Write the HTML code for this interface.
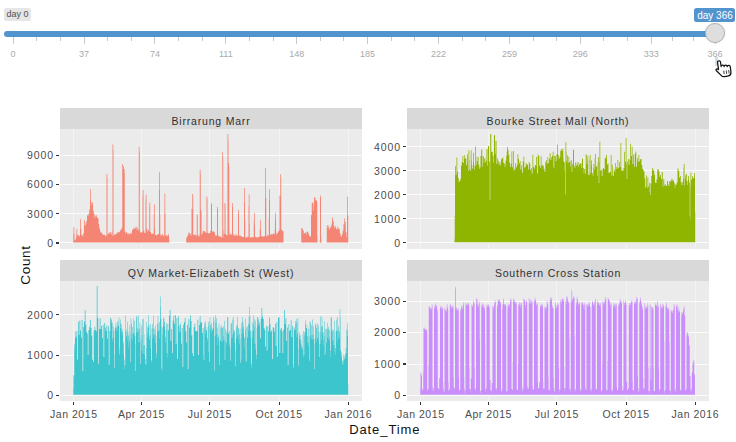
<!DOCTYPE html><html><head><meta charset="utf-8"><style>
html,body{margin:0;padding:0;width:736px;height:442px;overflow:hidden;background:#fff;font-family:"Liberation Sans", sans-serif;}
.t{position:absolute;white-space:nowrap;line-height:1;}
.ax{color:#4D4D4D;font-size:10.5px;}
.st{color:#303030;font-size:10.5px;}
.gt{color:#AAAAAA;font-size:9px;}

</style></head><body>
<svg width="736" height="442" style="position:absolute;left:0;top:0" shape-rendering="crispEdges"><rect x="60" y="107.5" width="302" height="21.0" fill="#D9D9D9"/><rect x="60" y="128.5" width="302" height="120.0" fill="#EBEBEB"/><rect x="60" y="242" width="302" height="1" fill="#FBFBFB"/><rect x="60" y="213" width="302" height="1" fill="#FBFBFB"/><rect x="60" y="184" width="302" height="1" fill="#FBFBFB"/><rect x="60" y="155" width="302" height="1" fill="#FBFBFB"/><rect x="73" y="128.5" width="1" height="120.0" fill="#F3F3F3"/><rect x="141" y="128.5" width="1" height="120.0" fill="#F3F3F3"/><rect x="209" y="128.5" width="1" height="120.0" fill="#F3F3F3"/><rect x="279" y="128.5" width="1" height="120.0" fill="#F3F3F3"/><rect x="348" y="128.5" width="1" height="120.0" fill="#F3F3F3"/><g fill="#F48574" shape-rendering="auto"><path d="M74 227.0h1V233.4h-1ZM75 237.5h1V239.7h-1ZM77 229.0h1V234.6h-1ZM81 228.6h1V234.7h-1ZM83 232.7h1V233.5h-1ZM93 210.2h1V210.6h-1ZM98 217.8h1V219.1h-1ZM99 224.8h1V228.0h-1ZM102 233.0h1V234.0h-1ZM105 235.2h1V235.9h-1ZM107 174.0h1V177.4h-1ZM108 232.6h1V233.5h-1ZM111 232.3h1V233.8h-1ZM113 144.5h1V149.4h-1ZM114 234.0h1V234.7h-1ZM117 232.0h1V232.4h-1ZM120 229.6h1V230.5h-1ZM125 231.3h1V231.9h-1ZM128 233.1h1V233.6h-1ZM129 232.7h1V234.3h-1ZM132 229.3h1V230.1h-1ZM134 227.7h1V228.5h-1ZM135 226.4h1V228.3h-1ZM138 147.0h1V228.7h-1ZM140 231.8h1V232.2h-1ZM141 232.2h1V232.8h-1ZM142 190.0h1V195.3h-1ZM144 230.8h1V233.1h-1ZM145 194.4h1V199.3h-1ZM147 228.5h1V231.1h-1ZM150 202.5h1V232.0h-1ZM151 233.3h1V234.1h-1ZM153 214.1h1V233.8h-1ZM156 234.9h1V235.5h-1ZM157 233.9h1V234.7h-1ZM160 214.6h1V234.2h-1ZM163 235.5h1V235.8h-1ZM165 193.5h1V213.3h-1ZM169 237.8h1V242.4h-1ZM187 234.5h1V236.2h-1ZM189 232.6h1V232.9h-1ZM190 233.4h1V234.4h-1ZM193 196.4h1V234.9h-1ZM195 234.6h1V234.9h-1ZM196 214.0h1V234.3h-1ZM198 235.2h1V235.6h-1ZM199 169.5h1V234.2h-1ZM201 210.0h1V211.7h-1ZM202 230.7h1V233.4h-1ZM205 231.7h1V232.2h-1ZM207 196.5h1V198.8h-1ZM208 232.9h1V233.2h-1ZM214 232.1h1V232.1h-1ZM216 235.4h1V235.6h-1ZM219 235.8h1V236.2h-1ZM223 156.8h1V229.4h-1ZM225 203.0h1V205.0h-1ZM226 234.6h1V235.1h-1ZM228 134.0h1V139.4h-1ZM229 166.8h1V231.0h-1ZM231 233.6h1V234.1h-1ZM233 233.0h1V234.6h-1ZM239 234.8h1V235.4h-1ZM242 236.9h1V237.1h-1ZM245 221.0h1V237.1h-1ZM248 194.4h1V206.6h-1ZM251 237.0h1V237.4h-1ZM253 220.5h1V237.1h-1ZM256 237.0h1V237.2h-1ZM257 236.9h1V237.7h-1ZM259 229.2h1V236.4h-1ZM262 236.1h1V236.6h-1ZM263 236.3h1V236.6h-1ZM266 198.0h1V235.5h-1ZM268 218.8h1V234.7h-1ZM272 233.5h1V234.4h-1ZM274 229.5h1V233.7h-1ZM277 232.7h1V233.2h-1ZM278 231.1h1V231.2h-1ZM281 177.7h1V229.1h-1ZM283 230.7h1V231.4h-1ZM308 232.2h1V233.2h-1ZM310 236.2h1V236.5h-1ZM311 203.0h1V214.9h-1ZM313 202.5h1V204.5h-1ZM317 202.5h1V236.6h-1ZM319 240.6h1V242.4h-1ZM321 235.9h1V242.3h-1ZM326 226.7h1V242.1h-1ZM329 225.6h1V228.9h-1ZM330 227.0h1V227.4h-1ZM338 226.5h1V228.6h-1ZM341 235.6h1V236.3h-1ZM342 230.7h1V233.8h-1ZM348 215.3h1V242.4h-1Z" fill-opacity="0.250"/><path d="M73 227.0h1V233.4h-1ZM74 233.4h1V240.2h-1ZM75 239.7h1V239.8h-1ZM76 229.0h1V234.6h-1ZM77 234.6h1V235.1h-1ZM79 235.4h1V236.3h-1ZM81 234.7h1V235.1h-1ZM82 234.7h1V236.3h-1ZM85 223.3h1V226.0h-1ZM88 213.5h1V215.6h-1ZM91 202.6h1V204.9h-1ZM94 213.9h1V217.2h-1ZM97 217.8h1V218.1h-1ZM98 219.1h1V223.8h-1ZM100 230.8h1V231.4h-1ZM103 234.8h1V234.9h-1ZM105 235.9h1V236.2h-1ZM106 174.0h1V234.7h-1ZM107 177.4h1V235.1h-1ZM109 232.6h1V233.1h-1ZM112 144.5h1V231.2h-1ZM113 149.4h1V235.4h-1ZM115 234.0h1V234.2h-1ZM118 232.0h1V232.3h-1ZM121 228.0h1V229.6h-1ZM124 169.0h1V172.7h-1ZM125 231.9h1V233.6h-1ZM127 233.1h1V234.3h-1ZM128 233.6h1V233.9h-1ZM129 234.3h1V234.5h-1ZM130 232.7h1V233.2h-1ZM133 227.7h1V229.3h-1ZM134 228.5h1V228.6h-1ZM136 226.4h1V227.3h-1ZM138 228.7h1V231.0h-1ZM139 147.0h1V151.8h-1ZM142 195.3h1V232.1h-1ZM143 190.0h1V229.8h-1ZM145 199.3h1V232.7h-1ZM146 194.4h1V228.5h-1ZM147 231.1h1V231.4h-1ZM149 202.5h1V206.6h-1ZM152 233.3h1V234.0h-1ZM155 234.7h1V234.9h-1ZM161 234.6h1V235.9h-1ZM164 193.5h1V213.3h-1ZM165 213.3h1V235.5h-1ZM167 235.3h1V236.2h-1ZM188 232.6h1V234.5h-1ZM191 208.8h1V232.7h-1ZM194 234.6h1V235.1h-1ZM196 234.3h1V235.3h-1ZM197 214.0h1V215.4h-1ZM198 235.6h1V235.8h-1ZM199 234.2h1V236.2h-1ZM200 169.5h1V173.2h-1ZM201 211.7h1V234.4h-1ZM203 230.7h1V231.3h-1ZM206 196.5h1V233.1h-1ZM207 198.8h1V232.4h-1ZM209 232.9h1V233.2h-1ZM212 231.5h1V231.6h-1ZM215 235.0h1V235.4h-1ZM218 235.7h1V235.8h-1ZM219 236.2h1V236.8h-1ZM221 236.8h1V237.1h-1ZM223 229.4h1V233.7h-1ZM224 203.0h1V233.7h-1ZM225 205.0h1V234.1h-1ZM227 134.0h1V235.2h-1ZM228 139.4h1V162.8h-1ZM229 231.0h1V234.6h-1ZM230 233.6h1V235.0h-1ZM231 234.1h1V234.7h-1ZM233 234.6h1V235.3h-1ZM234 234.6h1V235.9h-1ZM237 235.5h1V235.7h-1ZM239 235.4h1V235.9h-1ZM240 235.4h1V236.2h-1ZM243 236.9h1V237.0h-1ZM245 237.1h1V237.4h-1ZM246 237.1h1V237.5h-1ZM248 206.6h1V236.5h-1ZM249 194.4h1V223.6h-1ZM252 237.0h1V237.1h-1ZM253 237.1h1V237.4h-1ZM255 236.6h1V237.0h-1ZM258 236.9h1V237.1h-1ZM261 236.1h1V236.3h-1ZM264 236.1h1V236.3h-1ZM266 235.5h1V236.5h-1ZM267 234.7h1V235.5h-1ZM268 234.7h1V236.0h-1ZM270 234.4h1V234.7h-1ZM273 233.5h1V233.7h-1ZM274 233.7h1V233.9h-1ZM276 232.7h1V234.7h-1ZM279 195.5h1V228.8h-1ZM282 230.7h1V230.9h-1ZM283 231.4h1V242.4h-1ZM303 230.5h1V231.1h-1ZM306 231.8h1V234.6h-1ZM309 235.4h1V235.8h-1ZM310 236.5h1V236.8h-1ZM312 202.5h1V203.0h-1ZM313 204.5h1V210.3h-1ZM315 197.7h1V200.0h-1ZM317 236.6h1V242.4h-1ZM326 242.1h1V242.4h-1ZM328 225.6h1V227.3h-1ZM329 228.9h1V229.7h-1ZM331 223.8h1V225.7h-1ZM334 225.6h1V228.0h-1ZM337 226.5h1V229.3h-1ZM340 233.1h1V235.6h-1ZM341 236.3h1V237.1h-1ZM342 233.8h1V234.1h-1ZM343 224.2h1V228.9h-1ZM346 232.2h1V236.5h-1Z" fill-opacity="0.500"/><path d="M73 233.4h1V242.2h-1ZM76 234.6h1V237.5h-1ZM78 235.0h1V236.3h-1ZM80 219.0h1V228.6h-1ZM83 233.5h1V236.3h-1ZM84 220.0h1V224.6h-1ZM86 221.0h1V223.3h-1ZM87 215.1h1V215.6h-1ZM89 209.4h1V213.5h-1ZM90 189.0h1V199.8h-1ZM92 202.0h1V204.9h-1ZM93 210.6h1V213.9h-1ZM95 215.5h1V217.2h-1ZM96 215.3h1V216.7h-1ZM99 228.0h1V228.8h-1ZM100 231.4h1V233.1h-1ZM101 232.5h1V233.1h-1ZM102 234.0h1V234.5h-1ZM104 234.7h1V234.8h-1ZM106 234.7h1V235.9h-1ZM109 233.1h1V233.6h-1ZM110 231.8h1V233.6h-1ZM111 233.8h1V234.3h-1ZM112 231.2h1V235.4h-1ZM116 233.6h1V234.2h-1ZM119 231.8h1V232.3h-1ZM122 164.0h1V228.0h-1ZM123 166.0h1V169.0h-1ZM124 172.7h1V231.3h-1ZM126 232.0h1V232.6h-1ZM130 233.2h1V233.4h-1ZM131 232.9h1V233.4h-1ZM136 227.3h1V229.6h-1ZM137 227.9h1V229.6h-1ZM139 151.8h1V228.6h-1ZM140 232.2h1V232.3h-1ZM143 229.8h1V230.8h-1ZM148 229.8h1V231.1h-1ZM149 206.6h1V231.1h-1ZM153 233.8h1V234.0h-1ZM154 204.4h1V227.6h-1ZM159 172.0h1V189.8h-1ZM160 234.2h1V235.9h-1ZM162 234.3h1V234.6h-1ZM164 213.3h1V235.5h-1ZM166 235.1h1V236.2h-1ZM168 234.3h1V235.3h-1ZM186 237.7h1V241.4h-1ZM190 234.4h1V234.8h-1ZM191 232.7h1V235.7h-1ZM192 194.0h1V208.8h-1ZM193 234.9h1V235.1h-1ZM196 235.3h1V236.6h-1ZM197 215.4h1V235.2h-1ZM199 236.2h1V236.4h-1ZM200 173.2h1V210.0h-1ZM204 231.1h1V231.3h-1ZM205 232.2h1V232.8h-1ZM210 230.8h1V232.9h-1ZM211 203.0h1V205.0h-1ZM214 232.1h1V232.7h-1ZM215 235.4h1V235.4h-1ZM217 207.0h1V208.8h-1ZM220 236.5h1V236.8h-1ZM221 237.1h1V237.5h-1ZM222 152.3h1V237.5h-1ZM223 233.7h1V236.2h-1ZM226 235.1h1V235.2h-1ZM229 234.6h1V235.0h-1ZM232 203.0h1V207.0h-1ZM235 234.7h1V235.5h-1ZM236 234.5h1V235.5h-1ZM238 210.0h1V213.3h-1ZM241 235.9h1V236.2h-1ZM244 188.0h1V201.8h-1ZM247 236.4h1V237.5h-1ZM249 223.6h1V237.6h-1ZM250 236.9h1V237.6h-1ZM254 213.0h1V225.0h-1ZM259 236.4h1V237.1h-1ZM260 220.0h1V229.2h-1ZM265 168.0h1V198.0h-1ZM269 189.2h1V200.0h-1ZM271 233.8h1V234.7h-1ZM275 213.0h1V219.0h-1ZM279 228.8h1V231.1h-1ZM280 174.2h1V195.5h-1ZM281 229.1h1V229.8h-1ZM301 228.1h1V242.3h-1ZM302 228.6h1V229.3h-1ZM303 231.1h1V233.3h-1ZM304 233.3h1V233.3h-1ZM305 232.6h1V233.1h-1ZM307 231.6h1V231.8h-1ZM308 233.2h1V233.7h-1ZM309 235.8h1V236.2h-1ZM314 196.9h1V197.7h-1ZM315 200.0h1V200.6h-1ZM316 200.3h1V200.6h-1ZM320 195.6h1V198.0h-1ZM321 242.3h1V242.9h-1ZM327 224.9h1V227.5h-1ZM328 227.3h1V227.5h-1ZM331 225.7h1V227.0h-1ZM332 217.5h1V220.0h-1ZM333 221.2h1V225.6h-1ZM335 226.3h1V228.0h-1ZM336 228.6h1V229.3h-1ZM339 229.1h1V233.1h-1ZM343 228.9h1V230.7h-1ZM344 218.6h1V224.2h-1ZM345 222.0h1V232.2h-1ZM346 236.5h1V237.3h-1ZM347 196.8h1V215.3h-1Z" fill-opacity="0.750"/><path d="M73 242.2h1V242.4h-1ZM74 240.2h1V242.4h-1ZM75 239.8h1V242.4h-1ZM76 237.5h1V242.4h-1ZM77 235.1h1V242.4h-1ZM78 236.3h1V242.4h-1ZM79 236.3h1V242.4h-1ZM80 228.6h1V242.4h-1ZM81 235.1h1V242.4h-1ZM82 236.3h1V242.4h-1ZM83 236.3h1V242.4h-1ZM84 224.6h1V242.4h-1ZM85 226.0h1V242.4h-1ZM86 223.3h1V242.4h-1ZM87 215.6h1V242.4h-1ZM88 215.6h1V242.4h-1ZM89 213.5h1V242.4h-1ZM90 199.8h1V242.4h-1ZM91 204.9h1V242.4h-1ZM92 204.9h1V242.4h-1ZM93 213.9h1V242.4h-1ZM94 217.2h1V242.4h-1ZM95 217.2h1V242.4h-1ZM96 216.7h1V242.4h-1ZM97 218.1h1V242.4h-1ZM98 223.8h1V242.4h-1ZM99 228.8h1V242.4h-1ZM100 233.1h1V242.4h-1ZM101 233.1h1V242.4h-1ZM102 234.5h1V242.4h-1ZM103 234.9h1V242.4h-1ZM104 234.8h1V242.4h-1ZM105 236.2h1V242.4h-1ZM106 235.9h1V242.4h-1ZM107 235.1h1V242.4h-1ZM108 233.5h1V242.4h-1ZM109 233.6h1V242.4h-1ZM110 233.6h1V242.4h-1ZM111 234.3h1V242.4h-1ZM112 235.4h1V242.4h-1ZM113 235.4h1V242.4h-1ZM114 234.7h1V242.4h-1ZM115 234.2h1V242.4h-1ZM116 234.2h1V242.4h-1ZM117 232.4h1V242.4h-1ZM118 232.3h1V242.4h-1ZM119 232.3h1V242.4h-1ZM120 230.5h1V242.4h-1ZM121 229.6h1V242.4h-1ZM122 228.0h1V242.4h-1ZM123 169.0h1V242.4h-1ZM124 231.3h1V242.4h-1ZM125 233.6h1V242.4h-1ZM126 232.6h1V242.4h-1ZM127 234.3h1V242.4h-1ZM128 233.9h1V242.4h-1ZM129 234.5h1V242.4h-1ZM130 233.4h1V242.4h-1ZM131 233.4h1V242.4h-1ZM132 230.1h1V242.4h-1ZM133 229.3h1V242.4h-1ZM134 228.6h1V242.4h-1ZM135 228.3h1V242.4h-1ZM136 229.6h1V242.4h-1ZM137 229.6h1V242.4h-1ZM138 231.0h1V242.4h-1ZM139 228.6h1V242.4h-1ZM140 232.3h1V242.4h-1ZM141 232.8h1V242.4h-1ZM142 232.1h1V242.4h-1ZM143 230.8h1V242.4h-1ZM144 233.1h1V242.4h-1ZM145 232.7h1V242.4h-1ZM146 228.5h1V242.4h-1ZM147 231.4h1V242.4h-1ZM148 231.1h1V242.4h-1ZM149 231.1h1V242.4h-1ZM150 232.0h1V242.4h-1ZM151 234.1h1V242.4h-1ZM152 234.0h1V242.4h-1ZM153 234.0h1V242.4h-1ZM154 227.6h1V242.4h-1ZM155 234.9h1V242.4h-1ZM156 235.5h1V242.4h-1ZM157 234.7h1V242.4h-1ZM158 234.0h1V242.4h-1ZM159 189.8h1V242.4h-1ZM160 235.9h1V242.4h-1ZM161 235.9h1V242.4h-1ZM162 234.6h1V242.4h-1ZM163 235.8h1V242.4h-1ZM164 235.5h1V242.4h-1ZM165 235.5h1V242.4h-1ZM166 236.2h1V242.4h-1ZM167 236.2h1V242.4h-1ZM168 235.3h1V242.4h-1ZM186 241.4h1V242.4h-1ZM187 236.2h1V242.4h-1ZM188 234.5h1V242.4h-1ZM189 232.9h1V242.4h-1ZM190 234.8h1V242.4h-1ZM191 235.7h1V242.4h-1ZM192 208.8h1V242.4h-1ZM193 235.1h1V242.4h-1ZM194 235.1h1V242.4h-1ZM195 234.9h1V242.4h-1ZM196 236.6h1V242.4h-1ZM197 235.2h1V242.4h-1ZM198 235.8h1V242.4h-1ZM199 236.4h1V242.4h-1ZM200 210.0h1V242.4h-1ZM201 234.4h1V242.4h-1ZM202 233.4h1V242.4h-1ZM203 231.3h1V242.4h-1ZM204 231.3h1V242.4h-1ZM205 232.8h1V242.4h-1ZM206 233.1h1V242.4h-1ZM207 232.4h1V242.4h-1ZM208 233.2h1V242.4h-1ZM209 233.2h1V242.4h-1ZM210 232.9h1V242.4h-1ZM211 205.0h1V242.4h-1ZM212 231.6h1V242.4h-1ZM213 231.5h1V242.4h-1ZM214 232.7h1V242.4h-1ZM215 235.4h1V242.4h-1ZM216 235.6h1V242.4h-1ZM217 208.8h1V242.4h-1ZM218 235.8h1V242.4h-1ZM219 236.8h1V242.4h-1ZM220 236.8h1V242.4h-1ZM221 237.5h1V242.4h-1ZM222 237.5h1V242.4h-1ZM223 236.2h1V242.4h-1ZM224 233.7h1V242.4h-1ZM225 234.1h1V242.4h-1ZM226 235.2h1V242.4h-1ZM227 235.2h1V242.4h-1ZM228 162.8h1V242.4h-1ZM229 235.0h1V242.4h-1ZM230 235.0h1V242.4h-1ZM231 234.7h1V242.4h-1ZM232 207.0h1V242.4h-1ZM233 235.3h1V242.4h-1ZM234 235.9h1V242.4h-1ZM235 235.5h1V242.4h-1ZM236 235.5h1V242.4h-1ZM237 235.7h1V242.4h-1ZM238 213.3h1V242.4h-1ZM239 235.9h1V242.4h-1ZM240 236.2h1V242.4h-1ZM241 236.2h1V242.4h-1ZM242 237.1h1V242.4h-1ZM243 237.0h1V242.4h-1ZM244 201.8h1V242.4h-1ZM245 237.4h1V242.4h-1ZM246 237.5h1V242.4h-1ZM247 237.5h1V242.4h-1ZM248 236.5h1V242.4h-1ZM249 237.6h1V242.4h-1ZM250 237.6h1V242.4h-1ZM251 237.4h1V242.4h-1ZM252 237.1h1V242.4h-1ZM253 237.4h1V242.4h-1ZM254 225.0h1V242.4h-1ZM255 237.0h1V242.4h-1ZM256 237.2h1V242.4h-1ZM257 237.7h1V242.4h-1ZM258 237.1h1V242.4h-1ZM259 237.1h1V242.4h-1ZM260 229.2h1V242.4h-1ZM261 236.3h1V242.4h-1ZM262 236.6h1V242.4h-1ZM263 236.6h1V242.4h-1ZM264 236.3h1V242.4h-1ZM265 198.0h1V242.4h-1ZM266 236.5h1V242.4h-1ZM267 235.5h1V242.4h-1ZM268 236.0h1V242.4h-1ZM269 200.0h1V242.4h-1ZM270 234.7h1V242.4h-1ZM271 234.7h1V242.4h-1ZM272 234.4h1V242.4h-1ZM273 233.7h1V242.4h-1ZM274 233.9h1V242.4h-1ZM275 219.0h1V242.4h-1ZM276 234.7h1V242.4h-1ZM277 233.2h1V242.4h-1ZM278 231.2h1V242.4h-1ZM279 231.1h1V242.4h-1ZM280 195.5h1V242.4h-1ZM281 229.8h1V242.4h-1ZM282 230.9h1V242.4h-1ZM301 242.3h1V242.4h-1ZM302 229.3h1V242.4h-1ZM303 233.3h1V242.4h-1ZM304 233.3h1V242.4h-1ZM305 233.1h1V242.4h-1ZM306 234.6h1V242.4h-1ZM307 231.8h1V242.4h-1ZM308 233.7h1V242.4h-1ZM309 236.2h1V242.4h-1ZM310 236.8h1V242.4h-1ZM311 214.9h1V242.4h-1ZM312 203.0h1V242.4h-1ZM313 210.3h1V242.4h-1ZM314 197.7h1V242.4h-1ZM315 200.6h1V242.4h-1ZM316 200.6h1V242.4h-1ZM320 198.0h1V242.4h-1ZM327 227.5h1V242.4h-1ZM328 227.5h1V242.4h-1ZM329 229.7h1V242.4h-1ZM330 227.4h1V242.4h-1ZM331 227.0h1V242.4h-1ZM332 220.0h1V242.4h-1ZM333 225.6h1V242.4h-1ZM334 228.0h1V242.4h-1ZM335 228.0h1V242.4h-1ZM336 229.3h1V242.4h-1ZM337 229.3h1V242.4h-1ZM338 228.6h1V242.4h-1ZM339 233.1h1V242.4h-1ZM340 235.6h1V242.4h-1ZM341 237.1h1V242.4h-1ZM342 234.1h1V242.4h-1ZM343 230.7h1V242.4h-1ZM344 224.2h1V242.4h-1ZM345 232.2h1V242.4h-1ZM346 237.3h1V242.4h-1ZM347 215.3h1V242.4h-1Z" fill-opacity="1.000"/></g><rect x="55.8" y="242.45" width="3.3" height="1.1" fill="#333333"/><rect x="55.8" y="213.32" width="3.3" height="1.1" fill="#333333"/><rect x="55.8" y="184.19" width="3.3" height="1.1" fill="#333333"/><rect x="55.8" y="155.06" width="3.3" height="1.1" fill="#333333"/><rect x="407" y="107.5" width="302" height="21.0" fill="#D9D9D9"/><rect x="407" y="128.5" width="302" height="120.0" fill="#EBEBEB"/><rect x="407" y="242" width="302" height="1" fill="#FBFBFB"/><rect x="407" y="218" width="302" height="1" fill="#FBFBFB"/><rect x="407" y="194" width="302" height="1" fill="#FBFBFB"/><rect x="407" y="170" width="302" height="1" fill="#FBFBFB"/><rect x="407" y="146" width="302" height="1" fill="#FBFBFB"/><rect x="420" y="128.5" width="1" height="120.0" fill="#F3F3F3"/><rect x="488" y="128.5" width="1" height="120.0" fill="#F3F3F3"/><rect x="556" y="128.5" width="1" height="120.0" fill="#F3F3F3"/><rect x="626" y="128.5" width="1" height="120.0" fill="#F3F3F3"/><rect x="695" y="128.5" width="1" height="120.0" fill="#F3F3F3"/><g fill="#8FB500" shape-rendering="auto"><path d="M454 215.9h1V239.0h-1ZM457 157.4h1V170.2h-1ZM461 162.1h1V165.4h-1ZM463 156.0h1V163.1h-1ZM466 158.3h1V165.3h-1ZM469 150.5h1V159.8h-1ZM470 150.3h1V170.6h-1ZM472 165.1h1V168.4h-1ZM476 156.2h1V161.0h-1ZM479 164.6h1V167.3h-1ZM482 149.6h1V156.2h-1ZM485 158.2h1V160.5h-1ZM491 134.0h1V151.7h-1ZM500 162.0h1V163.3h-1ZM501 158.4h1V159.2h-1ZM503 157.6h1V162.7h-1ZM506 151.9h1V155.9h-1ZM509 154.7h1V162.5h-1ZM510 163.5h1V166.8h-1ZM512 151.4h1V167.3h-1ZM516 165.1h1V167.2h-1ZM518 154.3h1V159.0h-1ZM519 161.0h1V163.3h-1ZM522 161.4h1V172.8h-1ZM524 156.8h1V167.5h-1ZM525 163.0h1V166.9h-1ZM528 161.9h1V169.3h-1ZM530 163.5h1V169.9h-1ZM533 154.8h1V167.0h-1ZM534 164.9h1V168.6h-1ZM537 154.4h1V173.5h-1ZM539 156.0h1V165.6h-1ZM540 156.2h1V167.7h-1ZM548 156.9h1V162.9h-1ZM549 152.9h1V158.7h-1ZM552 151.8h1V155.7h-1ZM563 148.6h1V158.0h-1ZM566 142.1h1V152.2h-1ZM569 156.7h1V162.0h-1ZM570 160.3h1V162.0h-1ZM576 162.6h1V164.6h-1ZM579 163.4h1V164.8h-1ZM585 154.6h1V168.9h-1ZM588 156.1h1V174.8h-1ZM589 155.0h1V159.4h-1ZM594 158.3h1V164.1h-1ZM597 161.6h1V165.7h-1ZM600 141.8h1V170.5h-1ZM604 158.3h1V169.3h-1ZM607 163.6h1V164.5h-1ZM610 155.0h1V171.4h-1ZM613 169.3h1V175.7h-1ZM618 160.0h1V168.0h-1ZM621 143.0h1V167.9h-1ZM625 137.9h1V161.5h-1ZM631 146.5h1V156.1h-1ZM634 153.5h1V166.4h-1ZM636 151.6h1V166.7h-1ZM639 155.0h1V161.2h-1ZM640 159.1h1V159.2h-1ZM642 164.9h1V168.8h-1ZM645 178.2h1V187.4h-1ZM648 177.2h1V186.4h-1ZM654 170.8h1V175.1h-1ZM655 181.9h1V182.6h-1ZM661 172.0h1V179.0h-1ZM664 179.2h1V184.3h-1ZM670 180.5h1V180.9h-1ZM676 182.2h1V184.5h-1ZM679 171.0h1V177.5h-1ZM682 182.1h1V182.4h-1ZM683 164.0h1V167.9h-1ZM691 172.6h1V180.0h-1ZM695 211.4h1V242.2h-1Z" fill-opacity="0.250"/><path d="M454 239.0h1V242.2h-1ZM456 157.4h1V174.5h-1ZM457 170.2h1V171.9h-1ZM459 180.9h1V181.6h-1ZM462 156.0h1V162.1h-1ZM465 158.3h1V158.5h-1ZM468 150.5h1V170.9h-1ZM469 159.8h1V169.0h-1ZM471 150.3h1V159.5h-1ZM474 165.4h1V169.6h-1ZM476 161.0h1V164.8h-1ZM477 157.1h1V161.0h-1ZM478 157.1h1V164.6h-1ZM479 167.3h1V168.7h-1ZM480 155.9h1V167.3h-1ZM482 156.2h1V166.8h-1ZM485 160.5h1V162.4h-1ZM486 149.0h1V160.5h-1ZM487 149.0h1V165.6h-1ZM491 151.7h1V152.0h-1ZM493 155.6h1V162.8h-1ZM495 140.7h1V153.4h-1ZM496 140.7h1V164.1h-1ZM499 162.0h1V164.6h-1ZM500 163.3h1V165.5h-1ZM502 157.6h1V158.4h-1ZM505 160.6h1V164.7h-1ZM508 150.1h1V154.7h-1ZM511 151.4h1V163.5h-1ZM514 168.7h1V170.2h-1ZM517 154.3h1V165.1h-1ZM520 161.0h1V169.2h-1ZM523 156.8h1V161.4h-1ZM526 163.0h1V164.8h-1ZM529 161.9h1V163.5h-1ZM532 154.8h1V173.2h-1ZM535 164.9h1V165.2h-1ZM538 154.4h1V156.0h-1ZM541 156.2h1V165.6h-1ZM544 169.0h1V171.4h-1ZM547 156.9h1V163.7h-1ZM550 152.9h1V160.0h-1ZM553 151.8h1V165.5h-1ZM556 154.0h1V160.7h-1ZM559 156.7h1V158.9h-1ZM562 148.6h1V150.6h-1ZM563 158.0h1V161.2h-1ZM565 142.1h1V194.3h-1ZM566 152.2h1V161.0h-1ZM568 156.7h1V162.7h-1ZM570 162.0h1V166.6h-1ZM576 164.6h1V166.0h-1ZM577 161.9h1V164.6h-1ZM578 161.9h1V167.1h-1ZM580 163.2h1V163.4h-1ZM581 163.2h1V168.0h-1ZM585 168.9h1V174.1h-1ZM587 156.1h1V160.4h-1ZM589 159.4h1V175.1h-1ZM590 155.0h1V172.9h-1ZM593 164.1h1V168.1h-1ZM594 164.1h1V169.3h-1ZM596 165.7h1V166.9h-1ZM597 165.7h1V175.4h-1ZM599 141.8h1V162.0h-1ZM602 168.9h1V176.0h-1ZM605 157.5h1V158.3h-1ZM608 163.6h1V173.1h-1ZM611 155.0h1V175.3h-1ZM614 169.3h1V171.2h-1ZM617 160.0h1V168.7h-1ZM620 143.0h1V166.8h-1ZM621 167.9h1V170.8h-1ZM623 168.1h1V170.8h-1ZM626 137.9h1V164.1h-1ZM629 159.4h1V164.8h-1ZM632 146.5h1V163.9h-1ZM635 151.6h1V153.5h-1ZM638 155.0h1V162.0h-1ZM641 159.1h1V164.9h-1ZM644 171.5h1V178.2h-1ZM647 177.2h1V188.1h-1ZM650 183.2h1V195.0h-1ZM653 169.4h1V170.8h-1ZM656 179.2h1V182.7h-1ZM659 171.4h1V176.4h-1ZM664 184.3h1V185.4h-1ZM670 180.9h1V181.8h-1ZM671 178.7h1V180.5h-1ZM672 178.7h1V181.1h-1ZM677 168.6h1V182.2h-1ZM678 168.6h1V171.0h-1ZM681 181.8h1V184.9h-1ZM683 167.9h1V178.9h-1ZM684 164.0h1V185.4h-1ZM687 181.1h1V185.0h-1ZM690 172.6h1V186.6h-1ZM693 178.0h1V178.1h-1Z" fill-opacity="0.500"/><path d="M455 165.9h1V174.5h-1ZM458 177.9h1V181.6h-1ZM460 179.2h1V180.9h-1ZM464 155.3h1V158.5h-1ZM467 154.2h1V163.1h-1ZM471 159.5h1V165.1h-1ZM473 152.8h1V161.8h-1ZM475 146.5h1V165.4h-1ZM481 149.6h1V155.9h-1ZM483 156.2h1V162.3h-1ZM484 158.2h1V162.3h-1ZM489 161.5h1V199.5h-1ZM490 134.0h1V199.5h-1ZM492 151.7h1V155.6h-1ZM497 158.3h1V162.5h-1ZM498 160.8h1V164.6h-1ZM504 163.4h1V166.6h-1ZM505 164.7h1V166.6h-1ZM506 155.9h1V160.2h-1ZM507 147.1h1V150.1h-1ZM513 151.0h1V170.2h-1ZM515 163.0h1V168.7h-1ZM521 165.3h1V169.2h-1ZM527 164.5h1V164.8h-1ZM531 167.9h1V173.2h-1ZM536 157.0h1V165.2h-1ZM542 164.8h1V165.6h-1ZM543 165.8h1V169.0h-1ZM545 161.9h1V171.4h-1ZM546 160.1h1V163.7h-1ZM551 157.0h1V160.0h-1ZM553 165.5h1V167.5h-1ZM554 155.8h1V167.5h-1ZM555 156.0h1V160.7h-1ZM557 144.4h1V154.0h-1ZM558 155.1h1V158.9h-1ZM560 150.7h1V156.7h-1ZM561 149.0h1V150.6h-1ZM564 162.2h1V170.2h-1ZM567 155.5h1V162.7h-1ZM571 160.3h1V171.5h-1ZM572 164.1h1V171.5h-1ZM574 166.1h1V167.4h-1ZM575 162.6h1V167.4h-1ZM583 168.1h1V172.4h-1ZM584 168.9h1V172.4h-1ZM586 154.6h1V163.9h-1ZM587 160.4h1V163.9h-1ZM591 160.5h1V164.7h-1ZM592 173.3h1V175.2h-1ZM593 168.1h1V175.2h-1ZM595 153.9h1V166.9h-1ZM598 157.3h1V182.5h-1ZM599 162.0h1V182.5h-1ZM601 170.1h1V176.0h-1ZM603 167.9h1V168.9h-1ZM606 155.1h1V157.5h-1ZM609 172.4h1V173.1h-1ZM612 164.7h1V175.3h-1ZM615 163.1h1V171.2h-1ZM616 167.0h1V168.7h-1ZM619 162.0h1V166.8h-1ZM622 170.2h1V170.8h-1ZM624 151.7h1V168.1h-1ZM626 164.1h1V178.5h-1ZM627 161.8h1V178.5h-1ZM628 159.0h1V164.8h-1ZM630 143.8h1V159.4h-1ZM633 154.7h1V163.9h-1ZM637 158.3h1V162.0h-1ZM643 169.9h1V171.5h-1ZM646 175.5h1V185.6h-1ZM649 182.8h1V191.8h-1ZM651 175.9h1V183.2h-1ZM652 168.0h1V169.4h-1ZM657 169.4h1V179.2h-1ZM658 169.4h1V171.4h-1ZM660 175.0h1V176.4h-1ZM662 172.0h1V186.3h-1ZM663 179.2h1V186.3h-1ZM665 184.3h1V186.0h-1ZM666 185.7h1V186.0h-1ZM668 184.4h1V185.5h-1ZM669 180.9h1V185.5h-1ZM674 183.0h1V187.2h-1ZM675 184.5h1V187.2h-1ZM680 176.1h1V181.8h-1ZM682 182.4h1V184.9h-1ZM685 175.2h1V178.6h-1ZM686 174.0h1V181.1h-1ZM688 176.0h1V179.3h-1ZM689 182.4h1V215.6h-1ZM690 186.6h1V219.0h-1ZM692 176.0h1V178.1h-1ZM694 173.1h1V178.0h-1Z" fill-opacity="0.750"/><path d="M455 174.5h1V242.2h-1ZM456 174.5h1V242.2h-1ZM457 171.9h1V242.2h-1ZM458 181.6h1V242.2h-1ZM459 181.6h1V242.2h-1ZM460 180.9h1V242.2h-1ZM461 165.4h1V242.2h-1ZM462 162.1h1V242.2h-1ZM463 163.1h1V242.2h-1ZM464 158.5h1V242.2h-1ZM465 158.5h1V242.2h-1ZM466 165.3h1V242.2h-1ZM467 163.1h1V242.2h-1ZM468 170.9h1V242.2h-1ZM469 169.0h1V242.2h-1ZM470 170.6h1V242.2h-1ZM471 165.1h1V242.2h-1ZM472 168.4h1V242.2h-1ZM473 161.8h1V242.2h-1ZM474 169.6h1V242.2h-1ZM475 165.4h1V242.2h-1ZM476 164.8h1V242.2h-1ZM477 161.0h1V242.2h-1ZM478 164.6h1V242.2h-1ZM479 168.7h1V242.2h-1ZM480 167.3h1V242.2h-1ZM481 155.9h1V242.2h-1ZM482 166.8h1V242.2h-1ZM483 162.3h1V242.2h-1ZM484 162.3h1V242.2h-1ZM485 162.4h1V242.2h-1ZM486 160.5h1V242.2h-1ZM487 165.6h1V242.2h-1ZM488 146.0h1V242.2h-1ZM489 199.5h1V242.2h-1ZM490 199.5h1V242.2h-1ZM491 152.0h1V242.2h-1ZM492 155.6h1V242.2h-1ZM493 162.8h1V242.2h-1ZM494 135.2h1V242.2h-1ZM495 153.4h1V242.2h-1ZM496 164.1h1V242.2h-1ZM497 162.5h1V242.2h-1ZM498 164.6h1V242.2h-1ZM499 164.6h1V242.2h-1ZM500 165.5h1V242.2h-1ZM501 159.2h1V242.2h-1ZM502 158.4h1V242.2h-1ZM503 162.7h1V242.2h-1ZM504 166.6h1V242.2h-1ZM505 166.6h1V242.2h-1ZM506 160.2h1V242.2h-1ZM507 150.1h1V242.2h-1ZM508 154.7h1V242.2h-1ZM509 162.5h1V242.2h-1ZM510 166.8h1V242.2h-1ZM511 163.5h1V242.2h-1ZM512 167.3h1V242.2h-1ZM513 170.2h1V242.2h-1ZM514 170.2h1V242.2h-1ZM515 168.7h1V242.2h-1ZM516 167.2h1V242.2h-1ZM517 165.1h1V242.2h-1ZM518 159.0h1V242.2h-1ZM519 163.3h1V242.2h-1ZM520 169.2h1V242.2h-1ZM521 169.2h1V242.2h-1ZM522 172.8h1V242.2h-1ZM523 161.4h1V242.2h-1ZM524 167.5h1V242.2h-1ZM525 166.9h1V242.2h-1ZM526 164.8h1V242.2h-1ZM527 164.8h1V242.2h-1ZM528 169.3h1V242.2h-1ZM529 163.5h1V242.2h-1ZM530 169.9h1V242.2h-1ZM531 173.2h1V242.2h-1ZM532 173.2h1V242.2h-1ZM533 167.0h1V242.2h-1ZM534 168.6h1V242.2h-1ZM535 165.2h1V242.2h-1ZM536 165.2h1V242.2h-1ZM537 173.5h1V242.2h-1ZM538 156.0h1V242.2h-1ZM539 165.6h1V242.2h-1ZM540 167.7h1V242.2h-1ZM541 165.6h1V242.2h-1ZM542 165.6h1V242.2h-1ZM543 169.0h1V242.2h-1ZM544 171.4h1V242.2h-1ZM545 171.4h1V242.2h-1ZM546 163.7h1V242.2h-1ZM547 163.7h1V242.2h-1ZM548 162.9h1V242.2h-1ZM549 158.7h1V242.2h-1ZM550 160.0h1V242.2h-1ZM551 160.0h1V242.2h-1ZM552 155.7h1V242.2h-1ZM553 167.5h1V242.2h-1ZM554 167.5h1V242.2h-1ZM555 160.7h1V242.2h-1ZM556 160.7h1V242.2h-1ZM557 154.0h1V242.2h-1ZM558 158.9h1V242.2h-1ZM559 158.9h1V242.2h-1ZM560 156.7h1V242.2h-1ZM561 150.6h1V242.2h-1ZM562 150.6h1V242.2h-1ZM563 161.2h1V242.2h-1ZM564 170.2h1V242.2h-1ZM565 194.3h1V242.2h-1ZM566 161.0h1V242.2h-1ZM567 162.7h1V242.2h-1ZM568 162.7h1V242.2h-1ZM569 162.0h1V242.2h-1ZM570 166.6h1V242.2h-1ZM571 171.5h1V242.2h-1ZM572 171.5h1V242.2h-1ZM573 149.7h1V242.2h-1ZM574 167.4h1V242.2h-1ZM575 167.4h1V242.2h-1ZM576 166.0h1V242.2h-1ZM577 164.6h1V242.2h-1ZM578 167.1h1V242.2h-1ZM579 164.8h1V242.2h-1ZM580 163.4h1V242.2h-1ZM581 168.0h1V242.2h-1ZM582 158.7h1V242.2h-1ZM583 172.4h1V242.2h-1ZM584 172.4h1V242.2h-1ZM585 174.1h1V242.2h-1ZM586 163.9h1V242.2h-1ZM587 163.9h1V242.2h-1ZM588 174.8h1V242.2h-1ZM589 175.1h1V242.2h-1ZM590 172.9h1V242.2h-1ZM591 164.7h1V242.2h-1ZM592 175.2h1V242.2h-1ZM593 175.2h1V242.2h-1ZM594 169.3h1V242.2h-1ZM595 166.9h1V242.2h-1ZM596 166.9h1V242.2h-1ZM597 175.4h1V242.2h-1ZM598 182.5h1V242.2h-1ZM599 182.5h1V242.2h-1ZM600 170.5h1V242.2h-1ZM601 176.0h1V242.2h-1ZM602 176.0h1V242.2h-1ZM603 168.9h1V242.2h-1ZM604 169.3h1V242.2h-1ZM605 158.3h1V242.2h-1ZM606 157.5h1V242.2h-1ZM607 164.5h1V242.2h-1ZM608 173.1h1V242.2h-1ZM609 173.1h1V242.2h-1ZM610 171.4h1V242.2h-1ZM611 175.3h1V242.2h-1ZM612 175.3h1V242.2h-1ZM613 175.7h1V242.2h-1ZM614 171.2h1V242.2h-1ZM615 171.2h1V242.2h-1ZM616 168.7h1V242.2h-1ZM617 168.7h1V242.2h-1ZM618 168.0h1V242.2h-1ZM619 166.8h1V242.2h-1ZM620 166.8h1V242.2h-1ZM621 170.8h1V242.2h-1ZM622 170.8h1V242.2h-1ZM623 170.8h1V242.2h-1ZM624 168.1h1V242.2h-1ZM625 161.5h1V242.2h-1ZM626 178.5h1V242.2h-1ZM627 178.5h1V242.2h-1ZM628 164.8h1V242.2h-1ZM629 164.8h1V242.2h-1ZM630 159.4h1V242.2h-1ZM631 156.1h1V242.2h-1ZM632 163.9h1V242.2h-1ZM633 163.9h1V242.2h-1ZM634 166.4h1V242.2h-1ZM635 153.5h1V242.2h-1ZM636 166.7h1V242.2h-1ZM637 162.0h1V242.2h-1ZM638 162.0h1V242.2h-1ZM639 161.2h1V242.2h-1ZM640 159.2h1V242.2h-1ZM641 164.9h1V242.2h-1ZM642 168.8h1V242.2h-1ZM643 171.5h1V242.2h-1ZM644 178.2h1V242.2h-1ZM645 187.4h1V242.2h-1ZM646 185.6h1V242.2h-1ZM647 188.1h1V242.2h-1ZM648 186.4h1V242.2h-1ZM649 191.8h1V242.2h-1ZM650 195.0h1V242.2h-1ZM651 183.2h1V242.2h-1ZM652 169.4h1V242.2h-1ZM653 170.8h1V242.2h-1ZM654 175.1h1V242.2h-1ZM655 182.7h1V242.2h-1ZM656 182.7h1V242.2h-1ZM657 179.2h1V242.2h-1ZM658 171.4h1V242.2h-1ZM659 176.4h1V242.2h-1ZM660 176.4h1V242.2h-1ZM661 179.0h1V242.2h-1ZM662 186.3h1V242.2h-1ZM663 186.3h1V242.2h-1ZM664 185.4h1V242.2h-1ZM665 186.0h1V242.2h-1ZM666 186.0h1V242.2h-1ZM667 181.1h1V242.2h-1ZM668 185.5h1V242.2h-1ZM669 185.5h1V242.2h-1ZM670 181.8h1V242.2h-1ZM671 180.5h1V242.2h-1ZM672 181.1h1V242.2h-1ZM673 180.5h1V242.2h-1ZM674 187.2h1V242.2h-1ZM675 187.2h1V242.2h-1ZM676 184.5h1V242.2h-1ZM677 182.2h1V242.2h-1ZM678 171.0h1V242.2h-1ZM679 177.5h1V242.2h-1ZM680 181.8h1V242.2h-1ZM681 184.9h1V242.2h-1ZM682 184.9h1V242.2h-1ZM683 178.9h1V242.2h-1ZM684 185.4h1V242.2h-1ZM685 178.6h1V242.2h-1ZM686 181.1h1V242.2h-1ZM687 185.0h1V242.2h-1ZM688 179.3h1V242.2h-1ZM689 215.6h1V242.2h-1ZM690 219.0h1V242.2h-1ZM691 180.0h1V242.2h-1ZM692 178.1h1V242.2h-1ZM693 178.1h1V242.2h-1ZM694 178.0h1V242.2h-1Z" fill-opacity="1.000"/></g><rect x="402.8" y="242.25" width="3.3" height="1.1" fill="#333333"/><rect x="402.8" y="218.25" width="3.3" height="1.1" fill="#333333"/><rect x="402.8" y="194.25" width="3.3" height="1.1" fill="#333333"/><rect x="402.8" y="170.25" width="3.3" height="1.1" fill="#333333"/><rect x="402.8" y="146.25" width="3.3" height="1.1" fill="#333333"/><rect x="60" y="259.5" width="302" height="21.0" fill="#D9D9D9"/><rect x="60" y="280.5" width="302" height="120.0" fill="#EBEBEB"/><rect x="60" y="395" width="302" height="1" fill="#FBFBFB"/><rect x="60" y="355" width="302" height="1" fill="#FBFBFB"/><rect x="60" y="314" width="302" height="1" fill="#FBFBFB"/><rect x="73" y="280.5" width="1" height="120.0" fill="#F3F3F3"/><rect x="141" y="280.5" width="1" height="120.0" fill="#F3F3F3"/><rect x="209" y="280.5" width="1" height="120.0" fill="#F3F3F3"/><rect x="279" y="280.5" width="1" height="120.0" fill="#F3F3F3"/><rect x="348" y="280.5" width="1" height="120.0" fill="#F3F3F3"/><g fill="#3CC5CD" shape-rendering="auto"><path d="M77 331.0h1V359.5h-1ZM80 320.5h1V330.6h-1ZM81 320.1h1V337.6h-1ZM84 310.0h1V321.4h-1ZM86 324.6h1V331.7h-1ZM92 335.4h1V359.7h-1ZM93 330.6h1V361.9h-1ZM95 327.0h1V329.9h-1ZM96 286.0h1V331.3h-1ZM98 317.7h1V363.8h-1ZM99 318.5h1V328.9h-1ZM102 325.0h1V337.9h-1ZM107 325.4h1V338.7h-1ZM114 331.1h1V353.9h-1ZM115 322.7h1V326.3h-1ZM116 322.7h1V327.3h-1ZM118 317.4h1V321.3h-1ZM119 317.4h1V348.6h-1ZM122 328.4h1V331.1h-1ZM128 331.4h1V335.5h-1ZM130 318.6h1V334.0h-1ZM131 318.6h1V323.8h-1ZM135 335.8h1V343.6h-1ZM137 317.3h1V328.3h-1ZM139 323.0h1V328.5h-1ZM140 323.0h1V337.5h-1ZM144 334.0h1V344.9h-1ZM149 325.1h1V335.6h-1ZM151 328.2h1V360.3h-1ZM156 336.2h1V353.3h-1ZM157 315.7h1V323.5h-1ZM158 315.7h1V323.7h-1ZM161 318.5h1V326.2h-1ZM164 318.7h1V321.8h-1ZM165 329.1h1V337.0h-1ZM168 324.1h1V330.2h-1ZM169 310.0h1V315.7h-1ZM172 320.6h1V353.1h-1ZM174 316.0h1V323.7h-1ZM177 318.1h1V359.0h-1ZM181 328.1h1V343.8h-1ZM184 318.0h1V322.3h-1ZM186 331.3h1V342.4h-1ZM189 319.0h1V327.6h-1ZM192 335.2h1V353.3h-1ZM193 327.1h1V356.0h-1ZM195 323.8h1V331.1h-1ZM196 331.0h1V331.3h-1ZM198 319.8h1V355.1h-1ZM199 316.2h1V325.1h-1ZM202 328.3h1V333.0h-1ZM206 327.2h1V330.2h-1ZM207 327.2h1V337.9h-1ZM209 317.1h1V321.0h-1ZM210 317.1h1V325.0h-1ZM212 327.7h1V329.8h-1ZM214 319.3h1V336.5h-1ZM218 323.5h1V335.2h-1ZM219 323.5h1V341.4h-1ZM227 317.1h1V317.2h-1ZM228 317.1h1V332.7h-1ZM230 323.8h1V348.8h-1ZM234 329.9h1V331.2h-1ZM235 344.0h1V351.0h-1ZM236 324.7h1V327.1h-1ZM239 328.6h1V334.2h-1ZM240 328.6h1V338.6h-1ZM243 321.4h1V326.4h-1ZM244 336.8h1V337.8h-1ZM248 316.8h1V323.8h-1ZM250 315.8h1V330.2h-1ZM251 331.4h1V364.2h-1ZM256 328.2h1V354.5h-1ZM258 317.2h1V319.4h-1ZM260 318.5h1V338.2h-1ZM262 308.0h1V316.4h-1ZM265 329.8h1V346.5h-1ZM268 326.4h1V331.3h-1ZM272 327.1h1V358.9h-1ZM274 327.9h1V331.5h-1ZM277 322.1h1V356.5h-1ZM278 316.9h1V317.7h-1ZM286 318.2h1V341.1h-1ZM289 324.3h1V331.1h-1ZM290 320.3h1V330.0h-1ZM293 327.4h1V364.0h-1ZM297 317.9h1V321.7h-1ZM298 317.9h1V348.8h-1ZM301 339.5h1V344.8h-1ZM302 334.3h1V347.7h-1ZM306 324.6h1V328.0h-1ZM307 324.6h1V336.3h-1ZM309 321.2h1V336.0h-1ZM310 321.2h1V322.4h-1ZM314 338.1h1V343.5h-1ZM316 324.8h1V328.0h-1ZM319 331.7h1V344.4h-1ZM321 316.8h1V326.3h-1ZM322 316.8h1V326.3h-1ZM330 317.9h1V350.3h-1ZM332 328.7h1V331.3h-1ZM335 332.0h1V348.1h-1ZM339 309.0h1V331.9h-1ZM340 309.0h1V317.6h-1ZM342 360.0h1V361.6h-1ZM345 347.9h1V353.8h-1ZM348 384.5h1V394.7h-1Z" fill-opacity="0.250"/><path d="M73 375.0h1V388.2h-1ZM74 343.7h1V348.9h-1ZM75 331.5h1V336.6h-1ZM76 331.0h1V336.6h-1ZM79 320.5h1V334.8h-1ZM82 320.1h1V370.9h-1ZM85 310.0h1V324.6h-1ZM88 329.9h1V354.8h-1ZM91 328.0h1V335.4h-1ZM94 327.0h1V330.6h-1ZM97 286.0h1V317.7h-1ZM100 318.5h1V328.9h-1ZM103 325.0h1V356.4h-1ZM106 325.4h1V330.5h-1ZM109 330.8h1V364.4h-1ZM112 322.5h1V337.5h-1ZM113 326.3h1V329.8h-1ZM114 353.9h1V367.7h-1ZM115 326.3h1V327.7h-1ZM117 321.6h1V325.3h-1ZM118 321.3h1V325.8h-1ZM119 348.6h1V354.2h-1ZM120 319.6h1V323.3h-1ZM121 324.0h1V328.4h-1ZM123 341.4h1V344.1h-1ZM124 359.5h1V364.9h-1ZM125 315.7h1V331.6h-1ZM126 329.6h1V335.6h-1ZM127 321.6h1V331.4h-1ZM129 325.4h1V339.4h-1ZM130 334.0h1V361.8h-1ZM132 327.2h1V333.9h-1ZM133 318.5h1V332.2h-1ZM134 320.9h1V332.2h-1ZM135 343.6h1V371.1h-1ZM136 315.7h1V317.3h-1ZM138 315.3h1V331.3h-1ZM140 337.5h1V363.4h-1ZM141 325.4h1V339.4h-1ZM142 319.2h1V334.4h-1ZM143 318.7h1V345.5h-1ZM145 359.1h1V363.7h-1ZM146 322.0h1V347.6h-1ZM147 326.9h1V333.0h-1ZM148 315.1h1V325.1h-1ZM149 335.6h1V339.3h-1ZM150 323.9h1V334.6h-1ZM152 323.9h1V328.2h-1ZM153 315.6h1V327.5h-1ZM154 329.1h1V333.5h-1ZM155 325.8h1V333.5h-1ZM158 323.7h1V331.0h-1ZM159 321.9h1V329.3h-1ZM160 296.4h1V306.3h-1ZM161 326.2h1V368.4h-1ZM162 327.6h1V334.3h-1ZM163 317.2h1V318.7h-1ZM166 322.7h1V330.0h-1ZM167 324.1h1V352.9h-1ZM170 310.0h1V341.0h-1ZM173 316.0h1V320.6h-1ZM176 318.1h1V343.5h-1ZM179 325.4h1V331.6h-1ZM182 328.1h1V366.9h-1ZM185 318.0h1V331.3h-1ZM188 319.0h1V369.0h-1ZM191 321.0h1V335.2h-1ZM194 323.8h1V327.1h-1ZM197 319.8h1V331.0h-1ZM200 316.2h1V322.6h-1ZM203 328.3h1V355.1h-1ZM204 322.9h1V326.5h-1ZM205 321.4h1V325.1h-1ZM208 322.1h1V325.7h-1ZM209 321.0h1V361.8h-1ZM211 322.9h1V326.5h-1ZM213 316.9h1V320.8h-1ZM214 336.5h1V370.4h-1ZM215 315.3h1V322.4h-1ZM216 318.1h1V322.4h-1ZM217 327.8h1V337.4h-1ZM219 341.4h1V365.1h-1ZM220 327.2h1V339.2h-1ZM221 325.2h1V327.9h-1ZM222 327.4h1V327.9h-1ZM223 326.3h1V335.7h-1ZM224 320.8h1V339.4h-1ZM225 328.8h1V342.1h-1ZM226 331.4h1V342.1h-1ZM228 332.7h1V333.7h-1ZM229 331.0h1V343.8h-1ZM230 348.8h1V360.5h-1ZM231 322.8h1V323.8h-1ZM232 319.4h1V334.5h-1ZM233 316.9h1V329.9h-1ZM235 351.0h1V366.0h-1ZM237 316.8h1V324.7h-1ZM238 328.3h1V328.6h-1ZM240 338.6h1V362.7h-1ZM241 323.3h1V334.1h-1ZM242 316.9h1V321.4h-1ZM245 318.4h1V330.0h-1ZM246 327.6h1V361.0h-1ZM247 326.3h1V336.7h-1ZM249 307.0h1V316.8h-1ZM252 322.7h1V331.4h-1ZM253 315.5h1V323.5h-1ZM254 318.7h1V326.4h-1ZM255 320.7h1V343.3h-1ZM257 317.1h1V317.2h-1ZM261 308.0h1V318.5h-1ZM264 327.8h1V329.8h-1ZM267 326.4h1V350.3h-1ZM270 324.3h1V331.8h-1ZM273 327.1h1V327.9h-1ZM276 322.1h1V346.1h-1ZM279 316.9h1V353.1h-1ZM282 331.2h1V352.9h-1ZM285 318.2h1V323.7h-1ZM288 324.3h1V364.9h-1ZM291 320.3h1V337.1h-1ZM293 364.0h1V367.4h-1ZM294 327.4h1V329.8h-1ZM295 320.9h1V324.6h-1ZM296 318.9h1V322.7h-1ZM297 321.7h1V333.4h-1ZM298 348.8h1V365.5h-1ZM299 332.4h1V335.5h-1ZM300 335.3h1V339.5h-1ZM303 331.1h1V354.6h-1ZM304 332.2h1V335.3h-1ZM305 320.2h1V324.0h-1ZM308 329.1h1V342.4h-1ZM309 336.0h1V360.6h-1ZM311 325.0h1V334.7h-1ZM312 319.6h1V334.4h-1ZM313 326.3h1V334.4h-1ZM314 343.5h1V369.0h-1ZM315 323.8h1V324.8h-1ZM317 323.6h1V337.9h-1ZM318 325.5h1V331.7h-1ZM319 344.4h1V356.7h-1ZM320 316.2h1V332.0h-1ZM323 332.3h1V340.1h-1ZM324 321.2h1V336.0h-1ZM325 329.2h1V352.3h-1ZM326 328.5h1V341.8h-1ZM327 322.8h1V328.7h-1ZM328 326.8h1V328.7h-1ZM329 329.9h1V337.1h-1ZM331 317.0h1V317.9h-1ZM333 329.9h1V339.7h-1ZM334 320.8h1V344.5h-1ZM336 319.6h1V330.8h-1ZM337 317.0h1V330.8h-1ZM338 326.3h1V328.7h-1ZM340 317.6h1V350.0h-1ZM341 352.3h1V354.5h-1ZM343 354.5h1V360.0h-1ZM344 355.4h1V358.6h-1ZM346 329.2h1V347.9h-1ZM347 323.2h1V330.4h-1Z" fill-opacity="0.500"/><path d="M73 388.2h1V394.3h-1ZM74 348.9h1V377.0h-1ZM75 336.6h1V337.8h-1ZM78 321.7h1V334.8h-1ZM83 327.0h1V370.9h-1ZM87 333.8h1V354.8h-1ZM89 326.8h1V329.9h-1ZM90 320.1h1V328.0h-1ZM101 326.1h1V328.9h-1ZM104 323.1h1V356.4h-1ZM105 327.4h1V330.5h-1ZM108 326.3h1V364.2h-1ZM110 317.7h1V330.8h-1ZM111 319.4h1V322.5h-1ZM112 337.5h1V340.4h-1ZM113 329.8h1V337.5h-1ZM116 327.3h1V330.7h-1ZM117 325.3h1V329.3h-1ZM120 323.3h1V327.5h-1ZM121 328.4h1V331.7h-1ZM122 331.1h1V334.3h-1ZM123 344.1h1V354.9h-1ZM124 364.9h1V368.4h-1ZM125 331.6h1V364.9h-1ZM126 335.6h1V336.3h-1ZM127 331.4h1V340.0h-1ZM128 335.5h1V347.3h-1ZM129 339.4h1V342.9h-1ZM131 323.8h1V337.8h-1ZM132 333.9h1V340.8h-1ZM133 332.2h1V333.9h-1ZM134 332.2h1V335.8h-1ZM136 317.3h1V331.6h-1ZM137 328.3h1V332.9h-1ZM138 331.3h1V341.7h-1ZM139 328.5h1V341.8h-1ZM141 339.4h1V349.9h-1ZM142 334.4h1V353.2h-1ZM143 345.5h1V353.2h-1ZM144 344.9h1V355.0h-1ZM145 363.7h1V364.5h-1ZM146 347.6h1V363.7h-1ZM147 333.0h1V337.1h-1ZM148 325.1h1V327.2h-1ZM150 334.6h1V347.7h-1ZM151 360.3h1V361.8h-1ZM152 328.2h1V338.3h-1ZM153 327.5h1V334.6h-1ZM154 333.5h1V339.0h-1ZM155 333.5h1V342.7h-1ZM156 353.3h1V357.5h-1ZM157 323.5h1V330.7h-1ZM159 329.3h1V337.4h-1ZM160 306.3h1V318.5h-1ZM162 334.3h1V371.1h-1ZM163 318.7h1V325.0h-1ZM164 321.8h1V326.4h-1ZM165 337.0h1V342.9h-1ZM166 330.0h1V352.9h-1ZM167 352.9h1V357.2h-1ZM171 328.9h1V341.0h-1ZM175 315.0h1V343.5h-1ZM178 316.2h1V325.4h-1ZM180 323.8h1V331.6h-1ZM183 324.7h1V366.9h-1ZM187 324.8h1V369.0h-1ZM190 315.4h1V321.0h-1ZM201 322.0h1V322.6h-1ZM203 355.1h1V359.5h-1ZM204 326.5h1V359.5h-1ZM205 325.1h1V333.5h-1ZM206 330.2h1V330.6h-1ZM207 337.9h1V340.8h-1ZM208 325.7h1V351.4h-1ZM210 325.0h1V328.5h-1ZM211 326.5h1V333.0h-1ZM212 329.8h1V331.1h-1ZM213 320.8h1V327.7h-1ZM215 322.4h1V335.3h-1ZM216 322.4h1V333.5h-1ZM217 337.4h1V344.7h-1ZM218 335.2h1V337.9h-1ZM220 339.2h1V340.9h-1ZM221 327.9h1V341.4h-1ZM222 327.9h1V341.0h-1ZM223 335.7h1V340.1h-1ZM224 339.4h1V359.4h-1ZM225 342.1h1V359.4h-1ZM226 342.1h1V344.2h-1ZM227 317.2h1V332.8h-1ZM229 343.8h1V346.0h-1ZM231 323.8h1V338.1h-1ZM232 334.5h1V337.3h-1ZM233 329.9h1V332.6h-1ZM234 331.2h1V343.0h-1ZM236 327.1h1V337.4h-1ZM237 324.7h1V335.3h-1ZM238 328.6h1V338.4h-1ZM239 334.2h1V343.4h-1ZM241 334.1h1V359.3h-1ZM242 321.4h1V328.6h-1ZM243 326.4h1V332.5h-1ZM244 337.8h1V346.4h-1ZM245 330.0h1V361.0h-1ZM246 361.0h1V361.4h-1ZM247 336.7h1V337.7h-1ZM248 323.8h1V331.0h-1ZM249 316.8h1V324.6h-1ZM250 330.2h1V336.7h-1ZM251 364.2h1V367.3h-1ZM252 331.4h1V337.8h-1ZM253 323.5h1V330.0h-1ZM254 326.4h1V343.3h-1ZM255 343.3h1V348.5h-1ZM256 354.5h1V358.6h-1ZM257 317.2h1V324.9h-1ZM258 319.4h1V325.0h-1ZM259 322.4h1V327.0h-1ZM263 319.0h1V327.8h-1ZM266 325.7h1V350.3h-1ZM269 317.7h1V324.3h-1ZM271 330.2h1V331.8h-1ZM275 323.9h1V346.1h-1ZM280 329.2h1V353.1h-1ZM281 327.9h1V331.2h-1ZM283 329.7h1V352.9h-1ZM284 310.0h1V323.7h-1ZM287 327.6h1V364.8h-1ZM292 325.8h1V337.1h-1ZM295 324.6h1V329.8h-1ZM296 322.7h1V336.5h-1ZM299 335.5h1V338.3h-1ZM300 339.5h1V342.2h-1ZM301 344.8h1V347.3h-1ZM302 347.7h1V350.1h-1ZM303 354.6h1V356.6h-1ZM304 335.3h1V354.6h-1ZM305 324.0h1V331.4h-1ZM306 328.0h1V328.1h-1ZM307 336.3h1V342.2h-1ZM308 342.4h1V345.7h-1ZM310 322.4h1V337.0h-1ZM311 334.7h1V339.0h-1ZM312 334.4h1V338.5h-1ZM313 334.4h1V340.1h-1ZM315 324.8h1V338.9h-1ZM316 328.0h1V341.4h-1ZM318 331.7h1V339.4h-1ZM320 332.0h1V343.9h-1ZM321 326.3h1V340.1h-1ZM322 326.3h1V332.5h-1ZM323 340.1h1V344.9h-1ZM324 336.0h1V354.7h-1ZM325 352.3h1V354.7h-1ZM326 341.8h1V342.4h-1ZM327 328.7h1V337.3h-1ZM328 328.7h1V338.7h-1ZM329 337.1h1V339.7h-1ZM330 350.3h1V356.6h-1ZM331 317.9h1V329.5h-1ZM332 331.3h1V340.9h-1ZM333 339.7h1V344.5h-1ZM334 344.5h1V352.1h-1ZM335 348.1h1V355.1h-1ZM336 330.8h1V331.0h-1ZM337 330.8h1V340.5h-1ZM338 328.7h1V336.6h-1ZM339 331.9h1V338.2h-1ZM341 354.5h1V356.6h-1ZM342 361.6h1V364.9h-1ZM343 360.0h1V363.5h-1ZM344 358.6h1V359.3h-1ZM345 353.8h1V358.0h-1ZM346 347.9h1V352.7h-1ZM347 330.4h1V335.8h-1Z" fill-opacity="0.750"/><path d="M73 394.3h1V394.7h-1ZM74 377.0h1V394.7h-1ZM75 337.8h1V394.7h-1ZM76 336.6h1V394.7h-1ZM77 359.5h1V394.7h-1ZM78 334.8h1V394.7h-1ZM79 334.8h1V394.7h-1ZM80 330.6h1V394.7h-1ZM81 337.6h1V394.7h-1ZM82 370.9h1V394.7h-1ZM83 370.9h1V394.7h-1ZM84 321.4h1V394.7h-1ZM85 324.6h1V394.7h-1ZM86 331.7h1V394.7h-1ZM87 354.8h1V394.7h-1ZM88 354.8h1V394.7h-1ZM89 329.9h1V394.7h-1ZM90 328.0h1V394.7h-1ZM91 335.4h1V394.7h-1ZM92 359.7h1V394.7h-1ZM93 361.9h1V394.7h-1ZM94 330.6h1V394.7h-1ZM95 329.9h1V394.7h-1ZM96 331.3h1V394.7h-1ZM97 317.7h1V394.7h-1ZM98 363.8h1V394.7h-1ZM99 328.9h1V394.7h-1ZM100 328.9h1V394.7h-1ZM101 328.9h1V394.7h-1ZM102 337.9h1V394.7h-1ZM103 356.4h1V394.7h-1ZM104 356.4h1V394.7h-1ZM105 330.5h1V394.7h-1ZM106 330.5h1V394.7h-1ZM107 338.7h1V394.7h-1ZM108 364.2h1V394.7h-1ZM109 364.4h1V394.7h-1ZM110 330.8h1V394.7h-1ZM111 322.5h1V394.7h-1ZM112 340.4h1V394.7h-1ZM113 337.5h1V394.7h-1ZM114 367.7h1V394.7h-1ZM115 327.7h1V394.7h-1ZM116 330.7h1V394.7h-1ZM117 329.3h1V394.7h-1ZM118 325.8h1V394.7h-1ZM119 354.2h1V394.7h-1ZM120 327.5h1V394.7h-1ZM121 331.7h1V394.7h-1ZM122 334.3h1V394.7h-1ZM123 354.9h1V394.7h-1ZM124 368.4h1V394.7h-1ZM125 364.9h1V394.7h-1ZM126 336.3h1V394.7h-1ZM127 340.0h1V394.7h-1ZM128 347.3h1V394.7h-1ZM129 342.9h1V394.7h-1ZM130 361.8h1V394.7h-1ZM131 337.8h1V394.7h-1ZM132 340.8h1V394.7h-1ZM133 333.9h1V394.7h-1ZM134 335.8h1V394.7h-1ZM135 371.1h1V394.7h-1ZM136 331.6h1V394.7h-1ZM137 332.9h1V394.7h-1ZM138 341.7h1V394.7h-1ZM139 341.8h1V394.7h-1ZM140 363.4h1V394.7h-1ZM141 349.9h1V394.7h-1ZM142 353.2h1V394.7h-1ZM143 353.2h1V394.7h-1ZM144 355.0h1V394.7h-1ZM145 364.5h1V394.7h-1ZM146 363.7h1V394.7h-1ZM147 337.1h1V394.7h-1ZM148 327.2h1V394.7h-1ZM149 339.3h1V394.7h-1ZM150 347.7h1V394.7h-1ZM151 361.8h1V394.7h-1ZM152 338.3h1V394.7h-1ZM153 334.6h1V394.7h-1ZM154 339.0h1V394.7h-1ZM155 342.7h1V394.7h-1ZM156 357.5h1V394.7h-1ZM157 330.7h1V394.7h-1ZM158 331.0h1V394.7h-1ZM159 337.4h1V394.7h-1ZM160 318.5h1V394.7h-1ZM161 368.4h1V394.7h-1ZM162 371.1h1V394.7h-1ZM163 325.0h1V394.7h-1ZM164 326.4h1V394.7h-1ZM165 342.9h1V394.7h-1ZM166 352.9h1V394.7h-1ZM167 357.2h1V394.7h-1ZM168 330.2h1V394.7h-1ZM169 315.7h1V394.7h-1ZM170 341.0h1V394.7h-1ZM171 341.0h1V394.7h-1ZM172 353.1h1V394.7h-1ZM173 320.6h1V394.7h-1ZM174 323.7h1V394.7h-1ZM175 343.5h1V394.7h-1ZM176 343.5h1V394.7h-1ZM177 359.0h1V394.7h-1ZM178 325.4h1V394.7h-1ZM179 331.6h1V394.7h-1ZM180 331.6h1V394.7h-1ZM181 343.8h1V394.7h-1ZM182 366.9h1V394.7h-1ZM183 366.9h1V394.7h-1ZM184 322.3h1V394.7h-1ZM185 331.3h1V394.7h-1ZM186 342.4h1V394.7h-1ZM187 369.0h1V394.7h-1ZM188 369.0h1V394.7h-1ZM189 327.6h1V394.7h-1ZM190 321.0h1V394.7h-1ZM191 335.2h1V394.7h-1ZM192 353.3h1V394.7h-1ZM193 356.0h1V394.7h-1ZM194 327.1h1V394.7h-1ZM195 331.1h1V394.7h-1ZM196 331.3h1V394.7h-1ZM197 331.0h1V394.7h-1ZM198 355.1h1V394.7h-1ZM199 325.1h1V394.7h-1ZM200 322.6h1V394.7h-1ZM201 322.6h1V394.7h-1ZM202 333.0h1V394.7h-1ZM203 359.5h1V394.7h-1ZM204 359.5h1V394.7h-1ZM205 333.5h1V394.7h-1ZM206 330.6h1V394.7h-1ZM207 340.8h1V394.7h-1ZM208 351.4h1V394.7h-1ZM209 361.8h1V394.7h-1ZM210 328.5h1V394.7h-1ZM211 333.0h1V394.7h-1ZM212 331.1h1V394.7h-1ZM213 327.7h1V394.7h-1ZM214 370.4h1V394.7h-1ZM215 335.3h1V394.7h-1ZM216 333.5h1V394.7h-1ZM217 344.7h1V394.7h-1ZM218 337.9h1V394.7h-1ZM219 365.1h1V394.7h-1ZM220 340.9h1V394.7h-1ZM221 341.4h1V394.7h-1ZM222 341.0h1V394.7h-1ZM223 340.1h1V394.7h-1ZM224 359.4h1V394.7h-1ZM225 359.4h1V394.7h-1ZM226 344.2h1V394.7h-1ZM227 332.8h1V394.7h-1ZM228 333.7h1V394.7h-1ZM229 346.0h1V394.7h-1ZM230 360.5h1V394.7h-1ZM231 338.1h1V394.7h-1ZM232 337.3h1V394.7h-1ZM233 332.6h1V394.7h-1ZM234 343.0h1V394.7h-1ZM235 366.0h1V394.7h-1ZM236 337.4h1V394.7h-1ZM237 335.3h1V394.7h-1ZM238 338.4h1V394.7h-1ZM239 343.4h1V394.7h-1ZM240 362.7h1V394.7h-1ZM241 359.3h1V394.7h-1ZM242 328.6h1V394.7h-1ZM243 332.5h1V394.7h-1ZM244 346.4h1V394.7h-1ZM245 361.0h1V394.7h-1ZM246 361.4h1V394.7h-1ZM247 337.7h1V394.7h-1ZM248 331.0h1V394.7h-1ZM249 324.6h1V394.7h-1ZM250 336.7h1V394.7h-1ZM251 367.3h1V394.7h-1ZM252 337.8h1V394.7h-1ZM253 330.0h1V394.7h-1ZM254 343.3h1V394.7h-1ZM255 348.5h1V394.7h-1ZM256 358.6h1V394.7h-1ZM257 324.9h1V394.7h-1ZM258 325.0h1V394.7h-1ZM259 327.0h1V394.7h-1ZM260 338.2h1V394.7h-1ZM261 318.5h1V394.7h-1ZM262 316.4h1V394.7h-1ZM263 327.8h1V394.7h-1ZM264 329.8h1V394.7h-1ZM265 346.5h1V394.7h-1ZM266 350.3h1V394.7h-1ZM267 350.3h1V394.7h-1ZM268 331.3h1V394.7h-1ZM269 324.3h1V394.7h-1ZM270 331.8h1V394.7h-1ZM271 331.8h1V394.7h-1ZM272 358.9h1V394.7h-1ZM273 327.9h1V394.7h-1ZM274 331.5h1V394.7h-1ZM275 346.1h1V394.7h-1ZM276 346.1h1V394.7h-1ZM277 356.5h1V394.7h-1ZM278 317.7h1V394.7h-1ZM279 353.1h1V394.7h-1ZM280 353.1h1V394.7h-1ZM281 331.2h1V394.7h-1ZM282 352.9h1V394.7h-1ZM283 352.9h1V394.7h-1ZM284 323.7h1V394.7h-1ZM285 323.7h1V394.7h-1ZM286 341.1h1V394.7h-1ZM287 364.8h1V394.7h-1ZM288 364.9h1V394.7h-1ZM289 331.1h1V394.7h-1ZM290 330.0h1V394.7h-1ZM291 337.1h1V394.7h-1ZM292 337.1h1V394.7h-1ZM293 367.4h1V394.7h-1ZM294 329.8h1V394.7h-1ZM295 329.8h1V394.7h-1ZM296 336.5h1V394.7h-1ZM297 333.4h1V394.7h-1ZM298 365.5h1V394.7h-1ZM299 338.3h1V394.7h-1ZM300 342.2h1V394.7h-1ZM301 347.3h1V394.7h-1ZM302 350.1h1V394.7h-1ZM303 356.6h1V394.7h-1ZM304 354.6h1V394.7h-1ZM305 331.4h1V394.7h-1ZM306 328.1h1V394.7h-1ZM307 342.2h1V394.7h-1ZM308 345.7h1V394.7h-1ZM309 360.6h1V394.7h-1ZM310 337.0h1V394.7h-1ZM311 339.0h1V394.7h-1ZM312 338.5h1V394.7h-1ZM313 340.1h1V394.7h-1ZM314 369.0h1V394.7h-1ZM315 338.9h1V394.7h-1ZM316 341.4h1V394.7h-1ZM317 337.9h1V394.7h-1ZM318 339.4h1V394.7h-1ZM319 356.7h1V394.7h-1ZM320 343.9h1V394.7h-1ZM321 340.1h1V394.7h-1ZM322 332.5h1V394.7h-1ZM323 344.9h1V394.7h-1ZM324 354.7h1V394.7h-1ZM325 354.7h1V394.7h-1ZM326 342.4h1V394.7h-1ZM327 337.3h1V394.7h-1ZM328 338.7h1V394.7h-1ZM329 339.7h1V394.7h-1ZM330 356.6h1V394.7h-1ZM331 329.5h1V394.7h-1ZM332 340.9h1V394.7h-1ZM333 344.5h1V394.7h-1ZM334 352.1h1V394.7h-1ZM335 355.1h1V394.7h-1ZM336 331.0h1V394.7h-1ZM337 340.5h1V394.7h-1ZM338 336.6h1V394.7h-1ZM339 338.2h1V394.7h-1ZM340 350.0h1V394.7h-1ZM341 356.6h1V394.7h-1ZM342 364.9h1V394.7h-1ZM343 363.5h1V394.7h-1ZM344 359.3h1V394.7h-1ZM345 358.0h1V394.7h-1ZM346 352.7h1V394.7h-1ZM347 335.8h1V394.7h-1Z" fill-opacity="1.000"/></g><rect x="55.8" y="394.75" width="3.3" height="1.1" fill="#333333"/><rect x="55.8" y="354.55" width="3.3" height="1.1" fill="#333333"/><rect x="55.8" y="314.35" width="3.3" height="1.1" fill="#333333"/><rect x="73.20" y="401.5" width="1.1" height="3.3" fill="#333333"/><rect x="140.88" y="401.5" width="1.1" height="3.3" fill="#333333"/><rect x="209.32" y="401.5" width="1.1" height="3.3" fill="#333333"/><rect x="278.51" y="401.5" width="1.1" height="3.3" fill="#333333"/><rect x="347.70" y="401.5" width="1.1" height="3.3" fill="#333333"/><rect x="407" y="259.5" width="302" height="21.0" fill="#D9D9D9"/><rect x="407" y="280.5" width="302" height="120.0" fill="#EBEBEB"/><rect x="407" y="395" width="302" height="1" fill="#FBFBFB"/><rect x="407" y="364" width="302" height="1" fill="#FBFBFB"/><rect x="407" y="332" width="302" height="1" fill="#FBFBFB"/><rect x="407" y="301" width="302" height="1" fill="#FBFBFB"/><rect x="420" y="280.5" width="1" height="120.0" fill="#F3F3F3"/><rect x="488" y="280.5" width="1" height="120.0" fill="#F3F3F3"/><rect x="556" y="280.5" width="1" height="120.0" fill="#F3F3F3"/><rect x="626" y="280.5" width="1" height="120.0" fill="#F3F3F3"/><rect x="695" y="280.5" width="1" height="120.0" fill="#F3F3F3"/><g fill="#CA8EFC" shape-rendering="auto"><path d="M421 373.0h1V375.0h-1ZM422 388.4h1V389.4h-1ZM427 330.4h1V389.6h-1ZM428 306.1h1V364.2h-1ZM429 306.1h1V307.0h-1ZM431 304.0h1V307.9h-1ZM432 304.0h1V305.9h-1ZM434 305.1h1V307.4h-1ZM436 305.0h1V305.2h-1ZM443 382.1h1V388.4h-1ZM446 303.8h1V310.3h-1ZM447 303.8h1V305.6h-1ZM448 309.8h1V382.3h-1ZM449 304.9h1V389.1h-1ZM451 305.7h1V306.9h-1ZM452 305.6h1V306.1h-1ZM453 305.6h1V307.4h-1ZM457 308.8h1V309.2h-1ZM459 388.8h1V390.1h-1ZM464 376.8h1V388.8h-1ZM469 305.0h1V367.7h-1ZM470 378.2h1V389.1h-1ZM474 302.5h1V304.3h-1ZM475 388.4h1V388.5h-1ZM478 301.2h1V305.5h-1ZM480 390.0h1V391.1h-1ZM484 305.8h1V308.1h-1ZM485 343.0h1V389.3h-1ZM489 305.8h1V307.6h-1ZM491 383.1h1V390.2h-1ZM494 300.0h1V303.0h-1ZM495 300.0h1V301.9h-1ZM497 299.2h1V305.1h-1ZM498 299.2h1V300.2h-1ZM500 301.3h1V302.2h-1ZM501 388.7h1V390.9h-1ZM505 304.1h1V304.3h-1ZM506 306.1h1V390.8h-1ZM507 304.3h1V308.9h-1ZM508 304.3h1V305.0h-1ZM510 298.5h1V299.6h-1ZM511 298.5h1V300.5h-1ZM512 361.9h1V389.6h-1ZM513 298.8h1V299.6h-1ZM514 298.8h1V300.7h-1ZM517 389.0h1V389.9h-1ZM522 386.1h1V389.0h-1ZM525 299.9h1V304.8h-1ZM526 299.9h1V301.2h-1ZM527 303.1h1V386.0h-1ZM528 298.1h1V387.6h-1ZM529 298.1h1V300.0h-1ZM531 300.3h1V301.3h-1ZM532 300.3h1V302.2h-1ZM534 297.3h1V300.3h-1ZM535 297.3h1V299.3h-1ZM536 302.4h1V304.3h-1ZM538 387.8h1V388.1h-1ZM540 304.9h1V305.4h-1ZM543 381.8h1V388.5h-1ZM546 300.3h1V306.9h-1ZM547 300.3h1V302.2h-1ZM548 305.1h1V377.0h-1ZM549 300.0h1V389.7h-1ZM553 307.5h1V309.3h-1ZM554 387.8h1V390.7h-1ZM561 298.8h1V301.6h-1ZM564 366.5h1V388.3h-1ZM568 301.0h1V301.4h-1ZM569 303.2h1V339.0h-1ZM570 301.0h1V388.7h-1ZM572 292.1h1V299.0h-1ZM573 296.3h1V297.0h-1ZM574 296.3h1V298.3h-1ZM576 296.4h1V302.5h-1ZM577 296.4h1V298.3h-1ZM578 301.6h1V303.9h-1ZM580 389.3h1V389.8h-1ZM583 303.3h1V305.2h-1ZM585 304.5h1V388.2h-1ZM588 301.4h1V304.4h-1ZM589 301.4h1V303.3h-1ZM591 305.5h1V389.1h-1ZM593 301.6h1V303.5h-1ZM596 388.3h1V389.3h-1ZM599 302.6h1V304.5h-1ZM601 389.7h1V390.7h-1ZM604 298.5h1V301.8h-1ZM606 299.2h1V389.5h-1ZM607 297.4h1V361.1h-1ZM608 297.4h1V298.8h-1ZM610 302.4h1V304.5h-1ZM611 302.4h1V304.3h-1ZM612 388.1h1V389.9h-1ZM613 302.8h1V304.7h-1ZM614 302.8h1V304.6h-1ZM617 389.6h1V390.1h-1ZM619 298.4h1V303.1h-1ZM620 298.4h1V300.3h-1ZM622 386.0h1V389.9h-1ZM624 302.3h1V302.9h-1ZM626 302.8h1V304.7h-1ZM627 382.1h1V390.0h-1ZM628 304.4h1V387.9h-1ZM631 300.3h1V301.0h-1ZM632 300.3h1V302.2h-1ZM633 389.8h1V390.0h-1ZM641 301.1h1V303.0h-1ZM642 306.2h1V307.7h-1ZM643 377.9h1V388.1h-1ZM645 304.9h1V307.3h-1ZM646 306.1h1V307.3h-1ZM648 305.0h1V367.7h-1ZM649 304.1h1V391.0h-1ZM650 304.1h1V305.9h-1ZM652 307.5h1V307.5h-1ZM653 307.5h1V309.2h-1ZM659 388.4h1V389.5h-1ZM664 340.8h1V390.8h-1ZM669 309.5h1V342.8h-1ZM670 309.6h1V390.6h-1ZM671 309.6h1V311.1h-1ZM673 303.9h1V309.2h-1ZM674 303.9h1V305.7h-1ZM683 306.0h1V309.1h-1ZM684 306.0h1V307.8h-1ZM685 316.6h1V389.9h-1ZM686 333.0h1V336.1h-1ZM688 333.3h1V336.0h-1ZM690 376.0h1V376.4h-1ZM691 373.2h1V388.4h-1ZM692 362.0h1V363.7h-1ZM694 360.7h1V374.0h-1ZM695 394.3h1V394.8h-1Z" fill-opacity="0.250"/><path d="M420 372.5h1V387.4h-1ZM423 328.2h1V371.9h-1ZM424 327.4h1V328.7h-1ZM425 328.7h1V330.0h-1ZM426 329.1h1V330.0h-1ZM428 364.2h1V388.5h-1ZM430 307.4h1V308.8h-1ZM432 305.9h1V386.3h-1ZM433 388.0h1V388.4h-1ZM435 303.2h1V305.1h-1ZM437 309.4h1V311.2h-1ZM438 387.9h1V388.6h-1ZM439 378.0h1V378.3h-1ZM440 305.8h1V307.6h-1ZM441 306.4h1V307.9h-1ZM442 306.7h1V308.2h-1ZM444 308.0h1V391.3h-1ZM445 309.3h1V309.8h-1ZM447 305.6h1V308.0h-1ZM448 382.3h1V390.8h-1ZM450 303.9h1V304.9h-1ZM453 307.4h1V377.4h-1ZM454 387.8h1V387.9h-1ZM455 286.7h1V288.9h-1ZM456 307.0h1V308.0h-1ZM458 308.4h1V310.2h-1ZM459 390.1h1V390.7h-1ZM460 309.6h1V311.3h-1ZM461 305.6h1V307.4h-1ZM462 305.5h1V307.8h-1ZM463 302.2h1V304.1h-1ZM465 302.8h1V391.1h-1ZM466 304.2h1V304.7h-1ZM467 302.9h1V303.5h-1ZM468 303.2h1V303.5h-1ZM469 367.7h1V388.5h-1ZM471 304.4h1V378.2h-1ZM472 305.1h1V306.2h-1ZM473 300.8h1V302.5h-1ZM474 304.3h1V367.5h-1ZM476 297.9h1V299.8h-1ZM477 299.3h1V303.6h-1ZM479 301.8h1V303.7h-1ZM481 304.8h1V306.6h-1ZM482 302.9h1V304.7h-1ZM483 303.9h1V306.3h-1ZM486 304.9h1V388.2h-1ZM487 304.5h1V306.3h-1ZM488 303.9h1V305.8h-1ZM490 379.8h1V390.0h-1ZM492 305.9h1V383.1h-1ZM493 306.7h1V307.7h-1ZM496 388.0h1V389.0h-1ZM498 300.2h1V301.1h-1ZM499 299.4h1V300.2h-1ZM502 304.5h1V309.0h-1ZM503 298.6h1V300.6h-1ZM507 308.9h1V390.7h-1ZM509 303.7h1V305.5h-1ZM511 300.5h1V389.1h-1ZM514 300.7h1V301.6h-1ZM515 301.6h1V303.4h-1ZM516 301.9h1V303.8h-1ZM517 389.9h1V390.3h-1ZM518 304.3h1V306.1h-1ZM519 301.9h1V303.8h-1ZM520 303.1h1V305.9h-1ZM521 302.7h1V304.6h-1ZM522 389.0h1V390.8h-1ZM523 298.8h1V387.7h-1ZM524 299.2h1V300.7h-1ZM527 386.0h1V387.8h-1ZM528 387.6h1V389.0h-1ZM529 300.0h1V303.3h-1ZM530 299.7h1V301.6h-1ZM532 302.2h1V385.9h-1ZM533 388.9h1V389.2h-1ZM535 299.3h1V300.5h-1ZM537 302.7h1V304.5h-1ZM539 382.1h1V382.3h-1ZM541 303.5h1V304.9h-1ZM542 304.6h1V305.3h-1ZM544 307.0h1V388.6h-1ZM545 306.6h1V308.3h-1ZM547 302.2h1V303.3h-1ZM548 377.0h1V389.4h-1ZM550 297.7h1V300.0h-1ZM551 297.6h1V299.5h-1ZM552 305.5h1V307.3h-1ZM553 309.3h1V377.8h-1ZM555 302.3h1V304.2h-1ZM556 305.3h1V307.4h-1ZM557 303.2h1V305.0h-1ZM558 303.4h1V305.2h-1ZM560 299.9h1V301.8h-1ZM562 298.3h1V298.8h-1ZM563 299.1h1V300.2h-1ZM565 301.5h1V387.9h-1ZM566 296.5h1V298.5h-1ZM567 296.8h1V298.7h-1ZM569 339.0h1V389.6h-1ZM571 290.0h1V301.0h-1ZM574 298.3h1V336.0h-1ZM575 388.8h1V389.8h-1ZM577 298.3h1V299.6h-1ZM579 301.7h1V303.6h-1ZM581 302.8h1V304.7h-1ZM582 301.4h1V303.3h-1ZM584 302.7h1V304.5h-1ZM586 304.3h1V389.9h-1ZM587 304.2h1V306.0h-1ZM590 307.2h1V390.3h-1ZM592 300.8h1V301.6h-1ZM593 303.5h1V305.0h-1ZM594 301.7h1V303.5h-1ZM595 298.8h1V300.8h-1ZM597 300.3h1V302.2h-1ZM598 302.2h1V302.6h-1ZM599 304.5h1V305.5h-1ZM600 302.9h1V304.7h-1ZM602 301.3h1V362.5h-1ZM603 302.3h1V303.2h-1ZM605 297.3h1V298.5h-1ZM607 361.1h1V389.9h-1ZM609 300.4h1V300.8h-1ZM611 304.3h1V390.8h-1ZM614 304.6h1V306.1h-1ZM615 303.4h1V305.2h-1ZM616 303.5h1V305.3h-1ZM618 304.4h1V306.2h-1ZM620 300.3h1V301.3h-1ZM621 301.3h1V303.1h-1ZM622 389.9h1V390.5h-1ZM623 300.4h1V387.8h-1ZM625 300.2h1V302.1h-1ZM626 304.7h1V381.5h-1ZM629 303.0h1V304.4h-1ZM630 302.7h1V304.6h-1ZM632 302.2h1V381.1h-1ZM634 301.6h1V302.2h-1ZM635 301.1h1V302.2h-1ZM636 297.0h1V298.9h-1ZM637 298.2h1V300.2h-1ZM638 388.1h1V390.3h-1ZM639 301.5h1V303.4h-1ZM640 297.2h1V299.2h-1ZM641 303.0h1V304.4h-1ZM644 303.1h1V388.5h-1ZM647 303.2h1V306.1h-1ZM648 367.7h1V391.0h-1ZM650 305.9h1V368.0h-1ZM651 305.9h1V307.6h-1ZM653 309.2h1V369.0h-1ZM654 390.4h1V390.7h-1ZM655 303.3h1V305.1h-1ZM656 304.9h1V305.1h-1ZM657 301.1h1V303.0h-1ZM658 305.4h1V307.2h-1ZM660 303.9h1V305.8h-1ZM661 306.4h1V307.3h-1ZM662 303.8h1V307.3h-1ZM663 304.4h1V305.7h-1ZM665 305.8h1V390.1h-1ZM666 302.4h1V304.3h-1ZM667 307.0h1V308.8h-1ZM668 307.8h1V309.0h-1ZM669 342.8h1V390.2h-1ZM672 310.8h1V312.5h-1ZM675 388.6h1V390.5h-1ZM676 304.6h1V306.5h-1ZM677 305.1h1V309.0h-1ZM678 306.9h1V310.5h-1ZM679 310.0h1V311.7h-1ZM680 389.6h1V390.1h-1ZM681 311.9h1V316.1h-1ZM682 312.7h1V313.4h-1ZM684 307.8h1V315.0h-1ZM686 336.1h1V389.0h-1ZM687 332.0h1V333.0h-1ZM689 345.0h1V346.0h-1ZM690 376.4h1V390.3h-1ZM692 363.7h1V372.0h-1ZM693 360.0h1V362.0h-1Z" fill-opacity="0.500"/><path d="M420 387.4h1V394.8h-1ZM421 375.0h1V375.4h-1ZM422 389.4h1V390.3h-1ZM423 371.9h1V388.4h-1ZM424 328.7h1V329.6h-1ZM426 330.0h1V331.3h-1ZM427 389.6h1V390.5h-1ZM429 307.0h1V307.9h-1ZM430 308.8h1V309.1h-1ZM431 307.9h1V309.7h-1ZM432 386.3h1V390.3h-1ZM433 388.4h1V390.8h-1ZM434 307.4h1V309.1h-1ZM435 305.1h1V306.9h-1ZM436 305.2h1V307.0h-1ZM437 311.2h1V386.8h-1ZM438 388.6h1V389.3h-1ZM439 378.3h1V388.6h-1ZM440 307.6h1V307.9h-1ZM441 307.9h1V309.6h-1ZM442 308.2h1V308.5h-1ZM443 388.4h1V391.5h-1ZM445 309.8h1V311.0h-1ZM446 310.3h1V312.0h-1ZM449 389.1h1V389.5h-1ZM450 304.9h1V306.7h-1ZM451 306.9h1V308.7h-1ZM452 306.1h1V307.9h-1ZM453 377.4h1V387.9h-1ZM454 387.9h1V389.3h-1ZM455 288.9h1V308.0h-1ZM456 308.0h1V309.8h-1ZM457 309.2h1V310.9h-1ZM458 310.2h1V378.0h-1ZM460 311.3h1V388.8h-1ZM461 307.4h1V307.8h-1ZM462 307.8h1V309.6h-1ZM463 304.1h1V307.3h-1ZM464 388.8h1V392.4h-1ZM466 304.7h1V306.1h-1ZM467 303.5h1V304.7h-1ZM468 303.5h1V305.3h-1ZM470 389.1h1V391.3h-1ZM471 378.2h1V378.6h-1ZM472 306.2h1V306.9h-1ZM473 302.5h1V302.7h-1ZM474 367.5h1V388.4h-1ZM475 388.5h1V390.9h-1ZM476 299.8h1V303.6h-1ZM477 303.6h1V305.4h-1ZM478 305.5h1V307.3h-1ZM479 303.7h1V339.2h-1ZM480 391.1h1V392.7h-1ZM481 306.6h1V390.0h-1ZM482 304.7h1V306.3h-1ZM483 306.3h1V308.1h-1ZM484 308.1h1V309.9h-1ZM485 389.3h1V391.8h-1ZM487 306.3h1V306.7h-1ZM489 307.6h1V379.5h-1ZM491 390.2h1V391.3h-1ZM492 383.1h1V383.3h-1ZM493 307.7h1V308.5h-1ZM494 303.0h1V304.9h-1ZM495 301.9h1V389.0h-1ZM496 389.0h1V390.6h-1ZM497 305.1h1V306.9h-1ZM499 300.2h1V302.1h-1ZM500 302.2h1V304.1h-1ZM501 390.9h1V391.8h-1ZM502 309.0h1V388.7h-1ZM503 300.6h1V303.5h-1ZM504 304.2h1V306.0h-1ZM505 304.3h1V306.0h-1ZM506 390.8h1V391.7h-1ZM508 305.0h1V306.1h-1ZM509 305.5h1V306.8h-1ZM510 299.6h1V301.5h-1ZM512 389.6h1V390.0h-1ZM513 299.6h1V301.5h-1ZM516 303.8h1V389.0h-1ZM518 306.1h1V363.5h-1ZM519 303.8h1V305.9h-1ZM520 305.9h1V307.7h-1ZM521 304.6h1V304.9h-1ZM522 390.8h1V391.3h-1ZM523 387.7h1V389.0h-1ZM524 300.7h1V301.1h-1ZM525 304.8h1V306.6h-1ZM526 301.2h1V301.8h-1ZM527 387.8h1V388.6h-1ZM530 301.6h1V305.1h-1ZM531 301.3h1V303.2h-1ZM532 385.9h1V389.6h-1ZM533 389.2h1V389.6h-1ZM534 300.3h1V302.2h-1ZM536 304.3h1V306.1h-1ZM537 304.5h1V381.5h-1ZM538 388.1h1V388.2h-1ZM539 382.3h1V387.8h-1ZM540 305.4h1V307.2h-1ZM541 304.9h1V306.7h-1ZM542 305.3h1V306.4h-1ZM543 388.5h1V388.9h-1ZM545 308.3h1V308.8h-1ZM546 306.9h1V308.7h-1ZM549 389.7h1V390.8h-1ZM550 300.0h1V301.9h-1ZM551 299.5h1V299.6h-1ZM552 307.3h1V307.5h-1ZM553 377.8h1V387.8h-1ZM554 390.7h1V391.6h-1ZM555 304.2h1V307.4h-1ZM556 307.4h1V309.1h-1ZM557 305.0h1V307.1h-1ZM558 305.2h1V367.8h-1ZM559 389.4h1V391.5h-1ZM560 301.8h1V389.4h-1ZM561 301.6h1V303.5h-1ZM562 298.8h1V300.7h-1ZM563 300.2h1V301.1h-1ZM564 388.3h1V390.5h-1ZM566 298.5h1V303.4h-1ZM567 298.7h1V301.0h-1ZM568 301.4h1V302.9h-1ZM570 388.7h1V391.9h-1ZM571 301.0h1V302.9h-1ZM572 299.0h1V300.9h-1ZM573 297.0h1V299.0h-1ZM574 336.0h1V389.8h-1ZM575 389.8h1V392.0h-1ZM576 302.5h1V304.3h-1ZM578 303.9h1V305.7h-1ZM580 389.8h1V391.2h-1ZM581 304.7h1V389.3h-1ZM583 305.2h1V308.2h-1ZM584 304.5h1V309.9h-1ZM585 388.2h1V390.0h-1ZM587 306.0h1V306.1h-1ZM588 304.4h1V306.2h-1ZM589 303.3h1V305.4h-1ZM591 389.1h1V391.3h-1ZM592 301.6h1V302.7h-1ZM594 303.5h1V306.4h-1ZM595 300.8h1V388.3h-1ZM596 389.3h1V389.7h-1ZM597 302.2h1V305.1h-1ZM598 302.6h1V304.0h-1ZM600 304.7h1V307.3h-1ZM601 390.7h1V391.6h-1ZM602 362.5h1V389.7h-1ZM603 303.2h1V304.2h-1ZM604 301.8h1V303.7h-1ZM605 298.5h1V300.4h-1ZM606 389.5h1V390.4h-1ZM608 298.8h1V299.3h-1ZM609 300.8h1V302.3h-1ZM610 304.5h1V306.3h-1ZM611 390.8h1V391.0h-1ZM612 389.9h1V391.7h-1ZM613 304.7h1V306.5h-1ZM615 305.2h1V307.8h-1ZM616 305.3h1V386.2h-1ZM617 390.1h1V390.2h-1ZM618 306.2h1V388.1h-1ZM619 303.1h1V304.9h-1ZM622 390.5h1V391.0h-1ZM623 387.8h1V389.9h-1ZM624 302.9h1V304.7h-1ZM625 302.1h1V302.8h-1ZM626 381.5h1V381.9h-1ZM627 390.0h1V390.3h-1ZM628 387.9h1V388.2h-1ZM629 304.4h1V306.3h-1ZM630 304.6h1V304.8h-1ZM631 301.0h1V302.9h-1ZM632 381.1h1V389.8h-1ZM633 390.0h1V390.3h-1ZM634 302.2h1V303.5h-1ZM635 302.2h1V304.1h-1ZM636 298.9h1V303.0h-1ZM637 300.2h1V376.0h-1ZM638 390.3h1V391.4h-1ZM639 303.4h1V390.3h-1ZM640 299.2h1V301.1h-1ZM642 307.7h1V309.5h-1ZM643 388.1h1V389.9h-1ZM645 307.3h1V309.1h-1ZM646 307.3h1V309.0h-1ZM647 306.1h1V307.9h-1ZM649 391.0h1V392.6h-1ZM650 368.0h1V379.9h-1ZM651 307.6h1V380.2h-1ZM652 307.5h1V309.3h-1ZM653 369.0h1V390.7h-1ZM654 390.7h1V392.1h-1ZM655 305.1h1V305.1h-1ZM656 305.1h1V306.9h-1ZM657 303.0h1V306.7h-1ZM658 307.2h1V368.4h-1ZM659 389.5h1V391.9h-1ZM660 305.8h1V388.4h-1ZM661 307.3h1V308.2h-1ZM662 307.3h1V309.1h-1ZM663 305.7h1V306.2h-1ZM664 390.8h1V392.7h-1ZM666 304.3h1V307.6h-1ZM667 308.8h1V309.0h-1ZM668 309.0h1V310.7h-1ZM670 390.6h1V392.3h-1ZM671 311.1h1V311.3h-1ZM672 312.5h1V312.8h-1ZM673 309.2h1V311.0h-1ZM674 305.7h1V390.5h-1ZM675 390.5h1V391.7h-1ZM677 309.0h1V310.8h-1ZM678 310.5h1V312.2h-1ZM680 390.1h1V391.0h-1ZM681 316.1h1V390.1h-1ZM682 313.4h1V313.5h-1ZM683 309.1h1V310.5h-1ZM685 389.9h1V391.0h-1ZM687 333.0h1V334.2h-1ZM688 336.0h1V337.2h-1ZM689 346.0h1V376.0h-1ZM691 388.4h1V391.3h-1ZM693 362.0h1V362.7h-1ZM694 374.0h1V374.4h-1Z" fill-opacity="0.750"/><path d="M421 375.4h1V394.8h-1ZM422 390.3h1V394.8h-1ZM423 388.4h1V394.8h-1ZM424 329.6h1V394.8h-1ZM425 330.0h1V394.8h-1ZM426 331.3h1V394.8h-1ZM427 390.5h1V394.8h-1ZM428 388.5h1V394.8h-1ZM429 307.9h1V394.8h-1ZM430 309.1h1V394.8h-1ZM431 309.7h1V394.8h-1ZM432 390.3h1V394.8h-1ZM433 390.8h1V394.8h-1ZM434 309.1h1V394.8h-1ZM435 306.9h1V394.8h-1ZM436 307.0h1V394.8h-1ZM437 386.8h1V394.8h-1ZM438 389.3h1V394.8h-1ZM439 388.6h1V394.8h-1ZM440 307.9h1V394.8h-1ZM441 309.6h1V394.8h-1ZM442 308.5h1V394.8h-1ZM443 391.5h1V394.8h-1ZM444 391.3h1V394.8h-1ZM445 311.0h1V394.8h-1ZM446 312.0h1V394.8h-1ZM447 308.0h1V394.8h-1ZM448 390.8h1V394.8h-1ZM449 389.5h1V394.8h-1ZM450 306.7h1V394.8h-1ZM451 308.7h1V394.8h-1ZM452 307.9h1V394.8h-1ZM453 387.9h1V394.8h-1ZM454 389.3h1V394.8h-1ZM455 308.0h1V394.8h-1ZM456 309.8h1V394.8h-1ZM457 310.9h1V394.8h-1ZM458 378.0h1V394.8h-1ZM459 390.7h1V394.8h-1ZM460 388.8h1V394.8h-1ZM461 307.8h1V394.8h-1ZM462 309.6h1V394.8h-1ZM463 307.3h1V394.8h-1ZM464 392.4h1V394.8h-1ZM465 391.1h1V394.8h-1ZM466 306.1h1V394.8h-1ZM467 304.7h1V394.8h-1ZM468 305.3h1V394.8h-1ZM469 388.5h1V394.8h-1ZM470 391.3h1V394.8h-1ZM471 378.6h1V394.8h-1ZM472 306.9h1V394.8h-1ZM473 302.7h1V394.8h-1ZM474 388.4h1V394.8h-1ZM475 390.9h1V394.8h-1ZM476 303.6h1V394.8h-1ZM477 305.4h1V394.8h-1ZM478 307.3h1V394.8h-1ZM479 339.2h1V394.8h-1ZM480 392.7h1V394.8h-1ZM481 390.0h1V394.8h-1ZM482 306.3h1V394.8h-1ZM483 308.1h1V394.8h-1ZM484 309.9h1V394.8h-1ZM485 391.8h1V394.8h-1ZM486 388.2h1V394.8h-1ZM487 306.7h1V394.8h-1ZM488 305.8h1V394.8h-1ZM489 379.5h1V394.8h-1ZM490 390.0h1V394.8h-1ZM491 391.3h1V394.8h-1ZM492 383.3h1V394.8h-1ZM493 308.5h1V394.8h-1ZM494 304.9h1V394.8h-1ZM495 389.0h1V394.8h-1ZM496 390.6h1V394.8h-1ZM497 306.9h1V394.8h-1ZM498 301.1h1V394.8h-1ZM499 302.1h1V394.8h-1ZM500 304.1h1V394.8h-1ZM501 391.8h1V394.8h-1ZM502 388.7h1V394.8h-1ZM503 303.5h1V394.8h-1ZM504 306.0h1V394.8h-1ZM505 306.0h1V394.8h-1ZM506 391.7h1V394.8h-1ZM507 390.7h1V394.8h-1ZM508 306.1h1V394.8h-1ZM509 306.8h1V394.8h-1ZM510 301.5h1V394.8h-1ZM511 389.1h1V394.8h-1ZM512 390.0h1V394.8h-1ZM513 301.5h1V394.8h-1ZM514 301.6h1V394.8h-1ZM515 303.5h1V394.8h-1ZM516 389.0h1V394.8h-1ZM517 390.3h1V394.8h-1ZM518 363.5h1V394.8h-1ZM519 305.9h1V394.8h-1ZM520 307.7h1V394.8h-1ZM521 304.9h1V394.8h-1ZM522 391.3h1V394.8h-1ZM523 389.0h1V394.8h-1ZM524 301.1h1V394.8h-1ZM525 306.6h1V394.8h-1ZM526 301.8h1V394.8h-1ZM527 388.6h1V394.8h-1ZM528 389.0h1V394.8h-1ZM529 303.3h1V394.8h-1ZM530 305.1h1V394.8h-1ZM531 303.2h1V394.8h-1ZM532 389.6h1V394.8h-1ZM533 389.6h1V394.8h-1ZM534 302.2h1V394.8h-1ZM535 300.5h1V394.8h-1ZM536 306.1h1V394.8h-1ZM537 381.5h1V394.8h-1ZM538 388.2h1V394.8h-1ZM539 387.8h1V394.8h-1ZM540 307.2h1V394.8h-1ZM541 306.7h1V394.8h-1ZM542 306.4h1V394.8h-1ZM543 388.9h1V394.8h-1ZM544 388.6h1V394.8h-1ZM545 308.8h1V394.8h-1ZM546 308.7h1V394.8h-1ZM547 303.3h1V394.8h-1ZM548 389.4h1V394.8h-1ZM549 390.8h1V394.8h-1ZM550 301.9h1V394.8h-1ZM551 299.6h1V394.8h-1ZM552 307.5h1V394.8h-1ZM553 387.8h1V394.8h-1ZM554 391.6h1V394.8h-1ZM555 307.4h1V394.8h-1ZM556 309.1h1V394.8h-1ZM557 307.1h1V394.8h-1ZM558 367.8h1V394.8h-1ZM559 391.5h1V394.8h-1ZM560 389.4h1V394.8h-1ZM561 303.5h1V394.8h-1ZM562 300.7h1V394.8h-1ZM563 301.1h1V394.8h-1ZM564 390.5h1V394.8h-1ZM565 387.9h1V394.8h-1ZM566 303.4h1V394.8h-1ZM567 301.0h1V394.8h-1ZM568 302.9h1V394.8h-1ZM569 389.6h1V394.8h-1ZM570 391.9h1V394.8h-1ZM571 302.9h1V394.8h-1ZM572 300.9h1V394.8h-1ZM573 299.0h1V394.8h-1ZM574 389.8h1V394.8h-1ZM575 392.0h1V394.8h-1ZM576 304.3h1V394.8h-1ZM577 299.6h1V394.8h-1ZM578 305.7h1V394.8h-1ZM579 303.6h1V394.8h-1ZM580 391.2h1V394.8h-1ZM581 389.3h1V394.8h-1ZM582 303.3h1V394.8h-1ZM583 308.2h1V394.8h-1ZM584 309.9h1V394.8h-1ZM585 390.0h1V394.8h-1ZM586 389.9h1V394.8h-1ZM587 306.1h1V394.8h-1ZM588 306.2h1V394.8h-1ZM589 305.4h1V394.8h-1ZM590 390.3h1V394.8h-1ZM591 391.3h1V394.8h-1ZM592 302.7h1V394.8h-1ZM593 305.0h1V394.8h-1ZM594 306.4h1V394.8h-1ZM595 388.3h1V394.8h-1ZM596 389.7h1V394.8h-1ZM597 305.1h1V394.8h-1ZM598 304.0h1V394.8h-1ZM599 305.5h1V394.8h-1ZM600 307.3h1V394.8h-1ZM601 391.6h1V394.8h-1ZM602 389.7h1V394.8h-1ZM603 304.2h1V394.8h-1ZM604 303.7h1V394.8h-1ZM605 300.4h1V394.8h-1ZM606 390.4h1V394.8h-1ZM607 389.9h1V394.8h-1ZM608 299.3h1V394.8h-1ZM609 302.3h1V394.8h-1ZM610 306.3h1V394.8h-1ZM611 391.0h1V394.8h-1ZM612 391.7h1V394.8h-1ZM613 306.5h1V394.8h-1ZM614 306.1h1V394.8h-1ZM615 307.8h1V394.8h-1ZM616 386.2h1V394.8h-1ZM617 390.2h1V394.8h-1ZM618 388.1h1V394.8h-1ZM619 304.9h1V394.8h-1ZM620 301.3h1V394.8h-1ZM621 303.2h1V394.8h-1ZM622 391.0h1V394.8h-1ZM623 389.9h1V394.8h-1ZM624 304.7h1V394.8h-1ZM625 302.8h1V394.8h-1ZM626 381.9h1V394.8h-1ZM627 390.3h1V394.8h-1ZM628 388.2h1V394.8h-1ZM629 306.3h1V394.8h-1ZM630 304.8h1V394.8h-1ZM631 302.9h1V394.8h-1ZM632 389.8h1V394.8h-1ZM633 390.3h1V394.8h-1ZM634 303.5h1V394.8h-1ZM635 304.1h1V394.8h-1ZM636 303.0h1V394.8h-1ZM637 376.0h1V394.8h-1ZM638 391.4h1V394.8h-1ZM639 390.3h1V394.8h-1ZM640 301.1h1V394.8h-1ZM641 304.4h1V394.8h-1ZM642 309.5h1V394.8h-1ZM643 389.9h1V394.8h-1ZM644 388.5h1V394.8h-1ZM645 309.1h1V394.8h-1ZM646 309.0h1V394.8h-1ZM647 307.9h1V394.8h-1ZM648 391.0h1V394.8h-1ZM649 392.6h1V394.8h-1ZM650 379.9h1V394.8h-1ZM651 380.2h1V394.8h-1ZM652 309.3h1V394.8h-1ZM653 390.7h1V394.8h-1ZM654 392.1h1V394.8h-1ZM655 305.1h1V394.8h-1ZM656 306.9h1V394.8h-1ZM657 306.7h1V394.8h-1ZM658 368.4h1V394.8h-1ZM659 391.9h1V394.8h-1ZM660 388.4h1V394.8h-1ZM661 308.2h1V394.8h-1ZM662 309.1h1V394.8h-1ZM663 306.2h1V394.8h-1ZM664 392.7h1V394.8h-1ZM665 390.1h1V394.8h-1ZM666 307.6h1V394.8h-1ZM667 309.0h1V394.8h-1ZM668 310.7h1V394.8h-1ZM669 390.2h1V394.8h-1ZM670 392.3h1V394.8h-1ZM671 311.3h1V394.8h-1ZM672 312.8h1V394.8h-1ZM673 311.0h1V394.8h-1ZM674 390.5h1V394.8h-1ZM675 391.7h1V394.8h-1ZM676 306.5h1V394.8h-1ZM677 310.8h1V394.8h-1ZM678 312.2h1V394.8h-1ZM679 311.7h1V394.8h-1ZM680 391.0h1V394.8h-1ZM681 390.1h1V394.8h-1ZM682 313.5h1V394.8h-1ZM683 310.5h1V394.8h-1ZM684 315.0h1V394.8h-1ZM685 391.0h1V394.8h-1ZM686 389.0h1V394.8h-1ZM687 334.2h1V394.8h-1ZM688 337.2h1V394.8h-1ZM689 376.0h1V394.8h-1ZM690 390.3h1V394.8h-1ZM691 391.3h1V394.8h-1ZM692 372.0h1V394.8h-1ZM693 362.7h1V394.8h-1ZM694 374.4h1V394.8h-1Z" fill-opacity="1.000"/></g><rect x="402.8" y="394.85" width="3.3" height="1.1" fill="#333333"/><rect x="402.8" y="363.48" width="3.3" height="1.1" fill="#333333"/><rect x="402.8" y="332.11" width="3.3" height="1.1" fill="#333333"/><rect x="402.8" y="300.74" width="3.3" height="1.1" fill="#333333"/><rect x="420.20" y="401.5" width="1.1" height="3.3" fill="#333333"/><rect x="487.88" y="401.5" width="1.1" height="3.3" fill="#333333"/><rect x="556.32" y="401.5" width="1.1" height="3.3" fill="#333333"/><rect x="625.51" y="401.5" width="1.1" height="3.3" fill="#333333"/><rect x="694.70" y="401.5" width="1.1" height="3.3" fill="#333333"/></svg>
<div class="t st" style="left:11.0px;width:400px;text-align:center;top:115.8px;letter-spacing:0.8px">Birrarung Marr</div>
<div class="t ax" style="left:-346px;width:400px;text-align:right;top:237.7px;letter-spacing:0.9px">0</div>
<div class="t ax" style="left:-346px;width:400px;text-align:right;top:208.57px;letter-spacing:0.9px">3000</div>
<div class="t ax" style="left:-346px;width:400px;text-align:right;top:179.44px;letter-spacing:0.9px">6000</div>
<div class="t ax" style="left:-346px;width:400px;text-align:right;top:150.30999999999997px;letter-spacing:0.9px">9000</div>
<div class="t st" style="left:358.0px;width:400px;text-align:center;top:115.8px;letter-spacing:0.8px">Bourke Street Mall (North)</div>
<div class="t ax" style="left:1px;width:400px;text-align:right;top:237.5px;letter-spacing:0.9px">0</div>
<div class="t ax" style="left:1px;width:400px;text-align:right;top:213.5px;letter-spacing:0.9px">1000</div>
<div class="t ax" style="left:1px;width:400px;text-align:right;top:189.5px;letter-spacing:0.9px">2000</div>
<div class="t ax" style="left:1px;width:400px;text-align:right;top:165.5px;letter-spacing:0.9px">3000</div>
<div class="t ax" style="left:1px;width:400px;text-align:right;top:141.5px;letter-spacing:0.9px">4000</div>
<div class="t st" style="left:11.0px;width:400px;text-align:center;top:267.8px;letter-spacing:0.8px">QV Market-Elizabeth St (West)</div>
<div class="t ax" style="left:-346px;width:400px;text-align:right;top:390.0px;letter-spacing:0.9px">0</div>
<div class="t ax" style="left:-346px;width:400px;text-align:right;top:349.8px;letter-spacing:0.9px">1000</div>
<div class="t ax" style="left:-346px;width:400px;text-align:right;top:309.59999999999997px;letter-spacing:0.9px">2000</div>
<div class="t ax" style="left:-126.25px;width:400px;text-align:center;top:408.7px;letter-spacing:0.55px">Jan 2015</div>
<div class="t ax" style="left:-58.565068493150704px;width:400px;text-align:center;top:408.7px;letter-spacing:0.55px">Apr 2015</div>
<div class="t ax" style="left:9.871917808219166px;width:400px;text-align:center;top:408.7px;letter-spacing:0.55px">Jul 2015</div>
<div class="t ax" style="left:79.06095890410961px;width:400px;text-align:center;top:408.7px;letter-spacing:0.55px">Oct 2015</div>
<div class="t ax" style="left:148.25px;width:400px;text-align:center;top:408.7px;letter-spacing:0.55px">Jan 2016</div>
<div class="t st" style="left:358.0px;width:400px;text-align:center;top:267.8px;letter-spacing:0.8px">Southern Cross Station</div>
<div class="t ax" style="left:1px;width:400px;text-align:right;top:390.09999999999997px;letter-spacing:0.9px">0</div>
<div class="t ax" style="left:1px;width:400px;text-align:right;top:358.72999999999996px;letter-spacing:0.9px">1000</div>
<div class="t ax" style="left:1px;width:400px;text-align:right;top:327.35999999999996px;letter-spacing:0.9px">2000</div>
<div class="t ax" style="left:1px;width:400px;text-align:right;top:295.98999999999995px;letter-spacing:0.9px">3000</div>
<div class="t ax" style="left:220.75px;width:400px;text-align:center;top:408.7px;letter-spacing:0.55px">Jan 2015</div>
<div class="t ax" style="left:288.4349315068493px;width:400px;text-align:center;top:408.7px;letter-spacing:0.55px">Apr 2015</div>
<div class="t ax" style="left:356.8719178082192px;width:400px;text-align:center;top:408.7px;letter-spacing:0.55px">Jul 2015</div>
<div class="t ax" style="left:426.0609589041096px;width:400px;text-align:center;top:408.7px;letter-spacing:0.55px">Oct 2015</div>
<div class="t ax" style="left:495.25px;width:400px;text-align:center;top:408.7px;letter-spacing:0.55px">Jan 2016</div>
<div class="t " style="left:-174.2px;width:400px;text-align:center;top:264.5px;font-size:13.5px;color:#111;letter-spacing:0.7px;transform:translate(0,-6.75px) rotate(-90deg);transform-origin:200px 6.75px;">Count</div>
<div class="t " style="left:184.8px;width:400px;text-align:center;top:422.9px;font-size:13px;color:#111;letter-spacing:0.9px">Date_Time</div>
<div style="position:absolute;left:4.2px;top:7.9px;width:27.2px;height:13.2px;background:#E6E6E6;border-radius:2px"></div>
<div class="t " style="left:6.4px;top:10.2px;font-size:9px;color:#505050">day 0</div>
<div style="position:absolute;left:693.8px;top:8.1px;width:41.2px;height:14.4px;background:#5294CE;border-radius:2.5px"></div>
<div class="t " style="left:697.2px;top:10.5px;font-size:10px;color:#fff">day 366</div>
<div style="position:absolute;left:4px;top:31px;width:712px;height:6px;background:#5294CE;border-radius:3px 0 0 3px"></div>
<div style="position:absolute;left:12.60px;top:37px;width:1px;height:7.3px;background:#C8C8C8"></div>
<div class="t gt" style="left:-186.9px;width:400px;text-align:center;top:50.2px;">0</div>
<div style="position:absolute;left:36.23px;top:37px;width:1px;height:4.2px;background:#C8C8C8"></div>
<div style="position:absolute;left:59.87px;top:37px;width:1px;height:4.2px;background:#C8C8C8"></div>
<div style="position:absolute;left:83.50px;top:37px;width:1px;height:7.3px;background:#C8C8C8"></div>
<div class="t gt" style="left:-116.0px;width:400px;text-align:center;top:50.2px;">37</div>
<div style="position:absolute;left:107.13px;top:37px;width:1px;height:4.2px;background:#C8C8C8"></div>
<div style="position:absolute;left:130.77px;top:37px;width:1px;height:4.2px;background:#C8C8C8"></div>
<div style="position:absolute;left:154.40px;top:37px;width:1px;height:7.3px;background:#C8C8C8"></div>
<div class="t gt" style="left:-45.099999999999994px;width:400px;text-align:center;top:50.2px;">74</div>
<div style="position:absolute;left:178.03px;top:37px;width:1px;height:4.2px;background:#C8C8C8"></div>
<div style="position:absolute;left:201.67px;top:37px;width:1px;height:4.2px;background:#C8C8C8"></div>
<div style="position:absolute;left:225.30px;top:37px;width:1px;height:7.3px;background:#C8C8C8"></div>
<div class="t gt" style="left:25.80000000000001px;width:400px;text-align:center;top:50.2px;">111</div>
<div style="position:absolute;left:248.93px;top:37px;width:1px;height:4.2px;background:#C8C8C8"></div>
<div style="position:absolute;left:272.57px;top:37px;width:1px;height:4.2px;background:#C8C8C8"></div>
<div style="position:absolute;left:296.20px;top:37px;width:1px;height:7.3px;background:#C8C8C8"></div>
<div class="t gt" style="left:96.70000000000005px;width:400px;text-align:center;top:50.2px;">148</div>
<div style="position:absolute;left:319.83px;top:37px;width:1px;height:4.2px;background:#C8C8C8"></div>
<div style="position:absolute;left:343.47px;top:37px;width:1px;height:4.2px;background:#C8C8C8"></div>
<div style="position:absolute;left:367.10px;top:37px;width:1px;height:7.3px;background:#C8C8C8"></div>
<div class="t gt" style="left:167.60000000000002px;width:400px;text-align:center;top:50.2px;">185</div>
<div style="position:absolute;left:390.73px;top:37px;width:1px;height:4.2px;background:#C8C8C8"></div>
<div style="position:absolute;left:414.37px;top:37px;width:1px;height:4.2px;background:#C8C8C8"></div>
<div style="position:absolute;left:438.00px;top:37px;width:1px;height:7.3px;background:#C8C8C8"></div>
<div class="t gt" style="left:238.50000000000006px;width:400px;text-align:center;top:50.2px;">222</div>
<div style="position:absolute;left:461.63px;top:37px;width:1px;height:4.2px;background:#C8C8C8"></div>
<div style="position:absolute;left:485.27px;top:37px;width:1px;height:4.2px;background:#C8C8C8"></div>
<div style="position:absolute;left:508.90px;top:37px;width:1px;height:7.3px;background:#C8C8C8"></div>
<div class="t gt" style="left:309.4000000000001px;width:400px;text-align:center;top:50.2px;">259</div>
<div style="position:absolute;left:532.53px;top:37px;width:1px;height:4.2px;background:#C8C8C8"></div>
<div style="position:absolute;left:556.17px;top:37px;width:1px;height:4.2px;background:#C8C8C8"></div>
<div style="position:absolute;left:579.80px;top:37px;width:1px;height:7.3px;background:#C8C8C8"></div>
<div class="t gt" style="left:380.30000000000007px;width:400px;text-align:center;top:50.2px;">296</div>
<div style="position:absolute;left:603.43px;top:37px;width:1px;height:4.2px;background:#C8C8C8"></div>
<div style="position:absolute;left:627.07px;top:37px;width:1px;height:4.2px;background:#C8C8C8"></div>
<div style="position:absolute;left:650.70px;top:37px;width:1px;height:7.3px;background:#C8C8C8"></div>
<div class="t gt" style="left:451.20000000000005px;width:400px;text-align:center;top:50.2px;">333</div>
<div style="position:absolute;left:671.97px;top:37px;width:1px;height:4.2px;background:#C8C8C8"></div>
<div style="position:absolute;left:693.23px;top:37px;width:1px;height:4.2px;background:#C8C8C8"></div>
<div style="position:absolute;left:714.50px;top:37px;width:1px;height:7.3px;background:#C8C8C8"></div>
<div class="t gt" style="left:515.0px;width:400px;text-align:center;top:50.2px;">366</div>
<div style="position:absolute;left:705px;top:23.2px;width:20px;height:20px;box-sizing:border-box;border:1px solid #B4B4B4;background:#DEDEDE;border-radius:50%;box-shadow:0 0 2px rgba(0,0,0,0.15)"></div>
<div style="position:absolute;left:715px;top:57px;width:3px;height:9px;background:#A8C6E2;opacity:0.55"></div>
<svg style="position:absolute;left:0;top:0" width="736" height="442"><g transform="translate(718.8 60.8) rotate(-8) scale(1.0) translate(-4.5 0)"><path d="M3 1.2 Q3 0 4.5 0 Q6 0 6 1.2 L6 6 Q6 4.8 7.5 4.8 Q9 4.8 9 6 L9 6.5 Q9 5.3 10.5 5.3 Q12 5.3 12 6.5 L12 7 Q12 5.8 13.5 5.8 Q15 5.8 15 7 L15 12 Q15 16.5 11 16.5 L8 16.5 Q6 16.5 5 15 L0.8 9.5 Q0 8.3 1.2 7.8 Q2 7.5 3 8.6 Z" fill="#fff" stroke="#111" stroke-width="1.25" stroke-linejoin="round"/><path d="M8 10.5 V14 M10.5 10.5 V14 M13 10.5 V14" stroke="#333" stroke-width="0.9"/></g></svg>
</body></html>
